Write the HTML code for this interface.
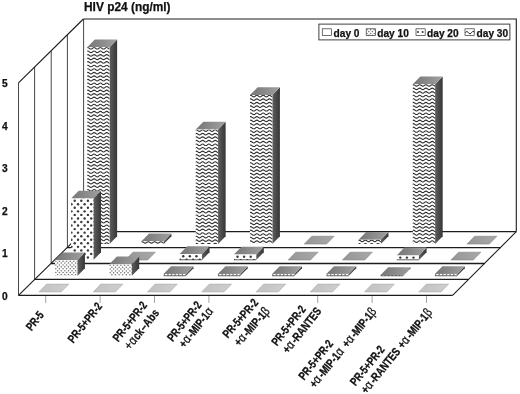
<!DOCTYPE html>
<html><head><meta charset="utf-8"><title>HIV p24</title>
<style>html,body{margin:0;padding:0;background:#fff}svg{display:block}
.t{font-family:"Liberation Sans",Arial,Helvetica,sans-serif;font-weight:bold;fill:#111}
.g{font-family:"Liberation Sans","DejaVu Sans",sans-serif;font-weight:normal;font-size:13px}</style></head>
<body>
<svg width="520" height="394" viewBox="0 0 520 394">
<defs>
<linearGradient id="side" x1="0" y1="0" x2="1" y2="0"><stop offset="0" stop-color="#5e5e5e"/><stop offset="1" stop-color="#363636"/></linearGradient>
<linearGradient id="top" x1="0" y1="0" x2="1" y2="0"><stop offset="0" stop-color="#767676"/><stop offset="1" stop-color="#a0a0a0"/></linearGradient>
<linearGradient id="flat0" x1="0" y1="0" x2="1" y2="0"><stop offset="0" stop-color="#c2c2c2"/><stop offset="1" stop-color="#cecece"/></linearGradient>
<linearGradient id="flat" x1="0" y1="0" x2="1" y2="0"><stop offset="0" stop-color="#969696"/><stop offset="1" stop-color="#a8a8a8"/></linearGradient>
</defs>
<rect width="520" height="394" fill="#fff"/>
<polyline points="83.40,19.00 516.30,19.00 516.30,231.60" stroke="#1c1c1c" stroke-width="1.1" fill="none" stroke-linejoin="miter"/>
<line x1="18.50" y1="82.90" x2="83.40" y2="19.00" stroke="#1c1c1c" stroke-width="1.1" fill="none" stroke-linejoin="miter"/>
<line x1="18.50" y1="82.90" x2="18.50" y2="295.40" stroke="#262626" stroke-width="0.85"/>
<line x1="34.60" y1="66.92" x2="34.60" y2="279.45" stroke="#262626" stroke-width="0.85"/>
<line x1="51.20" y1="50.95" x2="51.20" y2="263.50" stroke="#262626" stroke-width="0.85"/>
<line x1="67.40" y1="34.97" x2="67.40" y2="247.55" stroke="#262626" stroke-width="0.85"/>
<line x1="83.60" y1="19.00" x2="83.60" y2="231.60" stroke="#262626" stroke-width="0.85"/>
<line x1="18.50" y1="295.40" x2="83.40" y2="231.60" stroke="#1c1c1c" stroke-width="1.1" fill="none" stroke-linejoin="miter"/>
<line x1="452.58" y1="295.40" x2="516.30" y2="231.60" stroke="#1c1c1c" stroke-width="1.1" fill="none" stroke-linejoin="miter"/>
<line x1="18.50" y1="295.40" x2="452.58" y2="295.40" stroke="#1c1c1c" stroke-width="1.3"/>
<line x1="34.73" y1="279.45" x2="468.51" y2="279.45" stroke="#1c1c1c" stroke-width="1.3"/>
<line x1="50.95" y1="263.50" x2="484.44" y2="263.50" stroke="#1c1c1c" stroke-width="1.3"/>
<line x1="67.18" y1="247.55" x2="500.37" y2="247.55" stroke="#1c1c1c" stroke-width="1.3"/>
<line x1="83.40" y1="231.60" x2="516.30" y2="231.60" stroke="#1c1c1c" stroke-width="1.3"/>
<line x1="45.70" y1="296.00" x2="45.70" y2="302.90" stroke="#8c8c8c" stroke-width="0.8"/>
<line x1="100.10" y1="296.00" x2="100.10" y2="302.90" stroke="#8c8c8c" stroke-width="0.8"/>
<line x1="154.50" y1="296.00" x2="154.50" y2="302.90" stroke="#8c8c8c" stroke-width="0.8"/>
<line x1="208.90" y1="296.00" x2="208.90" y2="302.90" stroke="#8c8c8c" stroke-width="0.8"/>
<line x1="317.70" y1="296.00" x2="317.70" y2="302.90" stroke="#8c8c8c" stroke-width="0.8"/>
<line x1="372.10" y1="296.00" x2="372.10" y2="302.90" stroke="#8c8c8c" stroke-width="0.8"/>
<line x1="426.50" y1="296.00" x2="426.50" y2="302.90" stroke="#8c8c8c" stroke-width="0.8"/>
<polygon points="109.52,244.06 117.12,236.26 117.12,39.46 109.52,47.26" fill="url(#side)"/>
<polygon points="87.22,47.26 109.52,47.26 117.12,39.46 94.82,39.46" fill="url(#top)"/>
<clipPath id="c1"><rect x="87.22" y="47.26" width="22.30" height="196.80"/></clipPath>
<rect x="87.22" y="47.26" width="22.30" height="196.80" fill="#fff"/>
<g clip-path="url(#c1)">
<path d="M86.22,48.26 q1.57,-1.56 3.15,0 q1.57,1.56 3.15,0 q1.57,-1.56 3.15,0 q1.57,1.56 3.15,0 q1.57,-1.56 3.15,0 q1.57,1.56 3.15,0 q1.57,-1.56 3.15,0 q1.57,1.56 3.15,0" fill="none" stroke="#303030" stroke-width="1.08"/>
<path d="M86.22,51.81 q1.57,-1.56 3.15,0 q1.57,1.56 3.15,0 q1.57,-1.56 3.15,0 q1.57,1.56 3.15,0 q1.57,-1.56 3.15,0 q1.57,1.56 3.15,0 q1.57,-1.56 3.15,0 q1.57,1.56 3.15,0" fill="none" stroke="#303030" stroke-width="1.08"/>
<path d="M86.22,55.36 q1.57,-1.56 3.15,0 q1.57,1.56 3.15,0 q1.57,-1.56 3.15,0 q1.57,1.56 3.15,0 q1.57,-1.56 3.15,0 q1.57,1.56 3.15,0 q1.57,-1.56 3.15,0 q1.57,1.56 3.15,0" fill="none" stroke="#303030" stroke-width="1.08"/>
<path d="M86.22,58.91 q1.57,-1.56 3.15,0 q1.57,1.56 3.15,0 q1.57,-1.56 3.15,0 q1.57,1.56 3.15,0 q1.57,-1.56 3.15,0 q1.57,1.56 3.15,0 q1.57,-1.56 3.15,0 q1.57,1.56 3.15,0" fill="none" stroke="#303030" stroke-width="1.08"/>
<path d="M86.22,62.46 q1.57,-1.56 3.15,0 q1.57,1.56 3.15,0 q1.57,-1.56 3.15,0 q1.57,1.56 3.15,0 q1.57,-1.56 3.15,0 q1.57,1.56 3.15,0 q1.57,-1.56 3.15,0 q1.57,1.56 3.15,0" fill="none" stroke="#303030" stroke-width="1.08"/>
<path d="M86.22,66.01 q1.57,-1.56 3.15,0 q1.57,1.56 3.15,0 q1.57,-1.56 3.15,0 q1.57,1.56 3.15,0 q1.57,-1.56 3.15,0 q1.57,1.56 3.15,0 q1.57,-1.56 3.15,0 q1.57,1.56 3.15,0" fill="none" stroke="#303030" stroke-width="1.08"/>
<path d="M86.22,69.56 q1.57,-1.56 3.15,0 q1.57,1.56 3.15,0 q1.57,-1.56 3.15,0 q1.57,1.56 3.15,0 q1.57,-1.56 3.15,0 q1.57,1.56 3.15,0 q1.57,-1.56 3.15,0 q1.57,1.56 3.15,0" fill="none" stroke="#303030" stroke-width="1.08"/>
<path d="M86.22,73.11 q1.57,-1.56 3.15,0 q1.57,1.56 3.15,0 q1.57,-1.56 3.15,0 q1.57,1.56 3.15,0 q1.57,-1.56 3.15,0 q1.57,1.56 3.15,0 q1.57,-1.56 3.15,0 q1.57,1.56 3.15,0" fill="none" stroke="#303030" stroke-width="1.08"/>
<path d="M86.22,76.66 q1.57,-1.56 3.15,0 q1.57,1.56 3.15,0 q1.57,-1.56 3.15,0 q1.57,1.56 3.15,0 q1.57,-1.56 3.15,0 q1.57,1.56 3.15,0 q1.57,-1.56 3.15,0 q1.57,1.56 3.15,0" fill="none" stroke="#303030" stroke-width="1.08"/>
<path d="M86.22,80.21 q1.57,-1.56 3.15,0 q1.57,1.56 3.15,0 q1.57,-1.56 3.15,0 q1.57,1.56 3.15,0 q1.57,-1.56 3.15,0 q1.57,1.56 3.15,0 q1.57,-1.56 3.15,0 q1.57,1.56 3.15,0" fill="none" stroke="#303030" stroke-width="1.08"/>
<path d="M86.22,83.76 q1.57,-1.56 3.15,0 q1.57,1.56 3.15,0 q1.57,-1.56 3.15,0 q1.57,1.56 3.15,0 q1.57,-1.56 3.15,0 q1.57,1.56 3.15,0 q1.57,-1.56 3.15,0 q1.57,1.56 3.15,0" fill="none" stroke="#303030" stroke-width="1.08"/>
<path d="M86.22,87.31 q1.57,-1.56 3.15,0 q1.57,1.56 3.15,0 q1.57,-1.56 3.15,0 q1.57,1.56 3.15,0 q1.57,-1.56 3.15,0 q1.57,1.56 3.15,0 q1.57,-1.56 3.15,0 q1.57,1.56 3.15,0" fill="none" stroke="#303030" stroke-width="1.08"/>
<path d="M86.22,90.86 q1.57,-1.56 3.15,0 q1.57,1.56 3.15,0 q1.57,-1.56 3.15,0 q1.57,1.56 3.15,0 q1.57,-1.56 3.15,0 q1.57,1.56 3.15,0 q1.57,-1.56 3.15,0 q1.57,1.56 3.15,0" fill="none" stroke="#303030" stroke-width="1.08"/>
<path d="M86.22,94.41 q1.57,-1.56 3.15,0 q1.57,1.56 3.15,0 q1.57,-1.56 3.15,0 q1.57,1.56 3.15,0 q1.57,-1.56 3.15,0 q1.57,1.56 3.15,0 q1.57,-1.56 3.15,0 q1.57,1.56 3.15,0" fill="none" stroke="#303030" stroke-width="1.08"/>
<path d="M86.22,97.96 q1.57,-1.56 3.15,0 q1.57,1.56 3.15,0 q1.57,-1.56 3.15,0 q1.57,1.56 3.15,0 q1.57,-1.56 3.15,0 q1.57,1.56 3.15,0 q1.57,-1.56 3.15,0 q1.57,1.56 3.15,0" fill="none" stroke="#303030" stroke-width="1.08"/>
<path d="M86.22,101.51 q1.57,-1.56 3.15,0 q1.57,1.56 3.15,0 q1.57,-1.56 3.15,0 q1.57,1.56 3.15,0 q1.57,-1.56 3.15,0 q1.57,1.56 3.15,0 q1.57,-1.56 3.15,0 q1.57,1.56 3.15,0" fill="none" stroke="#303030" stroke-width="1.08"/>
<path d="M86.22,105.06 q1.57,-1.56 3.15,0 q1.57,1.56 3.15,0 q1.57,-1.56 3.15,0 q1.57,1.56 3.15,0 q1.57,-1.56 3.15,0 q1.57,1.56 3.15,0 q1.57,-1.56 3.15,0 q1.57,1.56 3.15,0" fill="none" stroke="#303030" stroke-width="1.08"/>
<path d="M86.22,108.61 q1.57,-1.56 3.15,0 q1.57,1.56 3.15,0 q1.57,-1.56 3.15,0 q1.57,1.56 3.15,0 q1.57,-1.56 3.15,0 q1.57,1.56 3.15,0 q1.57,-1.56 3.15,0 q1.57,1.56 3.15,0" fill="none" stroke="#303030" stroke-width="1.08"/>
<path d="M86.22,112.16 q1.57,-1.56 3.15,0 q1.57,1.56 3.15,0 q1.57,-1.56 3.15,0 q1.57,1.56 3.15,0 q1.57,-1.56 3.15,0 q1.57,1.56 3.15,0 q1.57,-1.56 3.15,0 q1.57,1.56 3.15,0" fill="none" stroke="#303030" stroke-width="1.08"/>
<path d="M86.22,115.71 q1.57,-1.56 3.15,0 q1.57,1.56 3.15,0 q1.57,-1.56 3.15,0 q1.57,1.56 3.15,0 q1.57,-1.56 3.15,0 q1.57,1.56 3.15,0 q1.57,-1.56 3.15,0 q1.57,1.56 3.15,0" fill="none" stroke="#303030" stroke-width="1.08"/>
<path d="M86.22,119.26 q1.57,-1.56 3.15,0 q1.57,1.56 3.15,0 q1.57,-1.56 3.15,0 q1.57,1.56 3.15,0 q1.57,-1.56 3.15,0 q1.57,1.56 3.15,0 q1.57,-1.56 3.15,0 q1.57,1.56 3.15,0" fill="none" stroke="#303030" stroke-width="1.08"/>
<path d="M86.22,122.81 q1.57,-1.56 3.15,0 q1.57,1.56 3.15,0 q1.57,-1.56 3.15,0 q1.57,1.56 3.15,0 q1.57,-1.56 3.15,0 q1.57,1.56 3.15,0 q1.57,-1.56 3.15,0 q1.57,1.56 3.15,0" fill="none" stroke="#303030" stroke-width="1.08"/>
<path d="M86.22,126.36 q1.57,-1.56 3.15,0 q1.57,1.56 3.15,0 q1.57,-1.56 3.15,0 q1.57,1.56 3.15,0 q1.57,-1.56 3.15,0 q1.57,1.56 3.15,0 q1.57,-1.56 3.15,0 q1.57,1.56 3.15,0" fill="none" stroke="#303030" stroke-width="1.08"/>
<path d="M86.22,129.91 q1.57,-1.56 3.15,0 q1.57,1.56 3.15,0 q1.57,-1.56 3.15,0 q1.57,1.56 3.15,0 q1.57,-1.56 3.15,0 q1.57,1.56 3.15,0 q1.57,-1.56 3.15,0 q1.57,1.56 3.15,0" fill="none" stroke="#303030" stroke-width="1.08"/>
<path d="M86.22,133.46 q1.57,-1.56 3.15,0 q1.57,1.56 3.15,0 q1.57,-1.56 3.15,0 q1.57,1.56 3.15,0 q1.57,-1.56 3.15,0 q1.57,1.56 3.15,0 q1.57,-1.56 3.15,0 q1.57,1.56 3.15,0" fill="none" stroke="#303030" stroke-width="1.08"/>
<path d="M86.22,137.01 q1.57,-1.56 3.15,0 q1.57,1.56 3.15,0 q1.57,-1.56 3.15,0 q1.57,1.56 3.15,0 q1.57,-1.56 3.15,0 q1.57,1.56 3.15,0 q1.57,-1.56 3.15,0 q1.57,1.56 3.15,0" fill="none" stroke="#303030" stroke-width="1.08"/>
<path d="M86.22,140.56 q1.57,-1.56 3.15,0 q1.57,1.56 3.15,0 q1.57,-1.56 3.15,0 q1.57,1.56 3.15,0 q1.57,-1.56 3.15,0 q1.57,1.56 3.15,0 q1.57,-1.56 3.15,0 q1.57,1.56 3.15,0" fill="none" stroke="#303030" stroke-width="1.08"/>
<path d="M86.22,144.11 q1.57,-1.56 3.15,0 q1.57,1.56 3.15,0 q1.57,-1.56 3.15,0 q1.57,1.56 3.15,0 q1.57,-1.56 3.15,0 q1.57,1.56 3.15,0 q1.57,-1.56 3.15,0 q1.57,1.56 3.15,0" fill="none" stroke="#303030" stroke-width="1.08"/>
<path d="M86.22,147.66 q1.57,-1.56 3.15,0 q1.57,1.56 3.15,0 q1.57,-1.56 3.15,0 q1.57,1.56 3.15,0 q1.57,-1.56 3.15,0 q1.57,1.56 3.15,0 q1.57,-1.56 3.15,0 q1.57,1.56 3.15,0" fill="none" stroke="#303030" stroke-width="1.08"/>
<path d="M86.22,151.21 q1.57,-1.56 3.15,0 q1.57,1.56 3.15,0 q1.57,-1.56 3.15,0 q1.57,1.56 3.15,0 q1.57,-1.56 3.15,0 q1.57,1.56 3.15,0 q1.57,-1.56 3.15,0 q1.57,1.56 3.15,0" fill="none" stroke="#303030" stroke-width="1.08"/>
<path d="M86.22,154.76 q1.57,-1.56 3.15,0 q1.57,1.56 3.15,0 q1.57,-1.56 3.15,0 q1.57,1.56 3.15,0 q1.57,-1.56 3.15,0 q1.57,1.56 3.15,0 q1.57,-1.56 3.15,0 q1.57,1.56 3.15,0" fill="none" stroke="#303030" stroke-width="1.08"/>
<path d="M86.22,158.31 q1.57,-1.56 3.15,0 q1.57,1.56 3.15,0 q1.57,-1.56 3.15,0 q1.57,1.56 3.15,0 q1.57,-1.56 3.15,0 q1.57,1.56 3.15,0 q1.57,-1.56 3.15,0 q1.57,1.56 3.15,0" fill="none" stroke="#303030" stroke-width="1.08"/>
<path d="M86.22,161.86 q1.57,-1.56 3.15,0 q1.57,1.56 3.15,0 q1.57,-1.56 3.15,0 q1.57,1.56 3.15,0 q1.57,-1.56 3.15,0 q1.57,1.56 3.15,0 q1.57,-1.56 3.15,0 q1.57,1.56 3.15,0" fill="none" stroke="#303030" stroke-width="1.08"/>
<path d="M86.22,165.41 q1.57,-1.56 3.15,0 q1.57,1.56 3.15,0 q1.57,-1.56 3.15,0 q1.57,1.56 3.15,0 q1.57,-1.56 3.15,0 q1.57,1.56 3.15,0 q1.57,-1.56 3.15,0 q1.57,1.56 3.15,0" fill="none" stroke="#303030" stroke-width="1.08"/>
<path d="M86.22,168.96 q1.57,-1.56 3.15,0 q1.57,1.56 3.15,0 q1.57,-1.56 3.15,0 q1.57,1.56 3.15,0 q1.57,-1.56 3.15,0 q1.57,1.56 3.15,0 q1.57,-1.56 3.15,0 q1.57,1.56 3.15,0" fill="none" stroke="#303030" stroke-width="1.08"/>
<path d="M86.22,172.51 q1.57,-1.56 3.15,0 q1.57,1.56 3.15,0 q1.57,-1.56 3.15,0 q1.57,1.56 3.15,0 q1.57,-1.56 3.15,0 q1.57,1.56 3.15,0 q1.57,-1.56 3.15,0 q1.57,1.56 3.15,0" fill="none" stroke="#303030" stroke-width="1.08"/>
<path d="M86.22,176.06 q1.57,-1.56 3.15,0 q1.57,1.56 3.15,0 q1.57,-1.56 3.15,0 q1.57,1.56 3.15,0 q1.57,-1.56 3.15,0 q1.57,1.56 3.15,0 q1.57,-1.56 3.15,0 q1.57,1.56 3.15,0" fill="none" stroke="#303030" stroke-width="1.08"/>
<path d="M86.22,179.61 q1.57,-1.56 3.15,0 q1.57,1.56 3.15,0 q1.57,-1.56 3.15,0 q1.57,1.56 3.15,0 q1.57,-1.56 3.15,0 q1.57,1.56 3.15,0 q1.57,-1.56 3.15,0 q1.57,1.56 3.15,0" fill="none" stroke="#303030" stroke-width="1.08"/>
<path d="M86.22,183.16 q1.57,-1.56 3.15,0 q1.57,1.56 3.15,0 q1.57,-1.56 3.15,0 q1.57,1.56 3.15,0 q1.57,-1.56 3.15,0 q1.57,1.56 3.15,0 q1.57,-1.56 3.15,0 q1.57,1.56 3.15,0" fill="none" stroke="#303030" stroke-width="1.08"/>
<path d="M86.22,186.71 q1.57,-1.56 3.15,0 q1.57,1.56 3.15,0 q1.57,-1.56 3.15,0 q1.57,1.56 3.15,0 q1.57,-1.56 3.15,0 q1.57,1.56 3.15,0 q1.57,-1.56 3.15,0 q1.57,1.56 3.15,0" fill="none" stroke="#303030" stroke-width="1.08"/>
<path d="M86.22,190.26 q1.57,-1.56 3.15,0 q1.57,1.56 3.15,0 q1.57,-1.56 3.15,0 q1.57,1.56 3.15,0 q1.57,-1.56 3.15,0 q1.57,1.56 3.15,0 q1.57,-1.56 3.15,0 q1.57,1.56 3.15,0" fill="none" stroke="#303030" stroke-width="1.08"/>
<path d="M86.22,193.81 q1.57,-1.56 3.15,0 q1.57,1.56 3.15,0 q1.57,-1.56 3.15,0 q1.57,1.56 3.15,0 q1.57,-1.56 3.15,0 q1.57,1.56 3.15,0 q1.57,-1.56 3.15,0 q1.57,1.56 3.15,0" fill="none" stroke="#303030" stroke-width="1.08"/>
<path d="M86.22,197.36 q1.57,-1.56 3.15,0 q1.57,1.56 3.15,0 q1.57,-1.56 3.15,0 q1.57,1.56 3.15,0 q1.57,-1.56 3.15,0 q1.57,1.56 3.15,0 q1.57,-1.56 3.15,0 q1.57,1.56 3.15,0" fill="none" stroke="#303030" stroke-width="1.08"/>
<path d="M86.22,200.91 q1.57,-1.56 3.15,0 q1.57,1.56 3.15,0 q1.57,-1.56 3.15,0 q1.57,1.56 3.15,0 q1.57,-1.56 3.15,0 q1.57,1.56 3.15,0 q1.57,-1.56 3.15,0 q1.57,1.56 3.15,0" fill="none" stroke="#303030" stroke-width="1.08"/>
<path d="M86.22,204.46 q1.57,-1.56 3.15,0 q1.57,1.56 3.15,0 q1.57,-1.56 3.15,0 q1.57,1.56 3.15,0 q1.57,-1.56 3.15,0 q1.57,1.56 3.15,0 q1.57,-1.56 3.15,0 q1.57,1.56 3.15,0" fill="none" stroke="#303030" stroke-width="1.08"/>
<path d="M86.22,208.01 q1.57,-1.56 3.15,0 q1.57,1.56 3.15,0 q1.57,-1.56 3.15,0 q1.57,1.56 3.15,0 q1.57,-1.56 3.15,0 q1.57,1.56 3.15,0 q1.57,-1.56 3.15,0 q1.57,1.56 3.15,0" fill="none" stroke="#303030" stroke-width="1.08"/>
<path d="M86.22,211.56 q1.57,-1.56 3.15,0 q1.57,1.56 3.15,0 q1.57,-1.56 3.15,0 q1.57,1.56 3.15,0 q1.57,-1.56 3.15,0 q1.57,1.56 3.15,0 q1.57,-1.56 3.15,0 q1.57,1.56 3.15,0" fill="none" stroke="#303030" stroke-width="1.08"/>
<path d="M86.22,215.11 q1.57,-1.56 3.15,0 q1.57,1.56 3.15,0 q1.57,-1.56 3.15,0 q1.57,1.56 3.15,0 q1.57,-1.56 3.15,0 q1.57,1.56 3.15,0 q1.57,-1.56 3.15,0 q1.57,1.56 3.15,0" fill="none" stroke="#303030" stroke-width="1.08"/>
<path d="M86.22,218.66 q1.57,-1.56 3.15,0 q1.57,1.56 3.15,0 q1.57,-1.56 3.15,0 q1.57,1.56 3.15,0 q1.57,-1.56 3.15,0 q1.57,1.56 3.15,0 q1.57,-1.56 3.15,0 q1.57,1.56 3.15,0" fill="none" stroke="#303030" stroke-width="1.08"/>
<path d="M86.22,222.21 q1.57,-1.56 3.15,0 q1.57,1.56 3.15,0 q1.57,-1.56 3.15,0 q1.57,1.56 3.15,0 q1.57,-1.56 3.15,0 q1.57,1.56 3.15,0 q1.57,-1.56 3.15,0 q1.57,1.56 3.15,0" fill="none" stroke="#303030" stroke-width="1.08"/>
<path d="M86.22,225.76 q1.57,-1.56 3.15,0 q1.57,1.56 3.15,0 q1.57,-1.56 3.15,0 q1.57,1.56 3.15,0 q1.57,-1.56 3.15,0 q1.57,1.56 3.15,0 q1.57,-1.56 3.15,0 q1.57,1.56 3.15,0" fill="none" stroke="#303030" stroke-width="1.08"/>
<path d="M86.22,229.31 q1.57,-1.56 3.15,0 q1.57,1.56 3.15,0 q1.57,-1.56 3.15,0 q1.57,1.56 3.15,0 q1.57,-1.56 3.15,0 q1.57,1.56 3.15,0 q1.57,-1.56 3.15,0 q1.57,1.56 3.15,0" fill="none" stroke="#303030" stroke-width="1.08"/>
<path d="M86.22,232.86 q1.57,-1.56 3.15,0 q1.57,1.56 3.15,0 q1.57,-1.56 3.15,0 q1.57,1.56 3.15,0 q1.57,-1.56 3.15,0 q1.57,1.56 3.15,0 q1.57,-1.56 3.15,0 q1.57,1.56 3.15,0" fill="none" stroke="#303030" stroke-width="1.08"/>
<path d="M86.22,236.41 q1.57,-1.56 3.15,0 q1.57,1.56 3.15,0 q1.57,-1.56 3.15,0 q1.57,1.56 3.15,0 q1.57,-1.56 3.15,0 q1.57,1.56 3.15,0 q1.57,-1.56 3.15,0 q1.57,1.56 3.15,0" fill="none" stroke="#303030" stroke-width="1.08"/>
<path d="M86.22,239.96 q1.57,-1.56 3.15,0 q1.57,1.56 3.15,0 q1.57,-1.56 3.15,0 q1.57,1.56 3.15,0 q1.57,-1.56 3.15,0 q1.57,1.56 3.15,0 q1.57,-1.56 3.15,0 q1.57,1.56 3.15,0" fill="none" stroke="#303030" stroke-width="1.08"/>
<path d="M86.22,243.51 q1.57,-1.56 3.15,0 q1.57,1.56 3.15,0 q1.57,-1.56 3.15,0 q1.57,1.56 3.15,0 q1.57,-1.56 3.15,0 q1.57,1.56 3.15,0 q1.57,-1.56 3.15,0 q1.57,1.56 3.15,0" fill="none" stroke="#303030" stroke-width="1.08"/>
</g>
<polygon points="163.78,244.06 171.38,236.26 171.38,233.56 163.78,241.36" fill="url(#side)"/>
<polygon points="141.48,241.36 163.78,241.36 171.38,233.56 149.08,233.56" fill="url(#top)"/>
<clipPath id="c2"><rect x="141.48" y="241.36" width="22.30" height="2.70"/></clipPath>
<rect x="141.48" y="241.36" width="22.30" height="2.70" fill="#fff"/>
<g clip-path="url(#c2)">
<path d="M140.48,242.36 q1.57,-1.56 3.15,0 q1.57,1.56 3.15,0 q1.57,-1.56 3.15,0 q1.57,1.56 3.15,0 q1.57,-1.56 3.15,0 q1.57,1.56 3.15,0 q1.57,-1.56 3.15,0 q1.57,1.56 3.15,0" fill="none" stroke="#303030" stroke-width="1.08"/>
<path d="M140.48,245.91 q1.57,-1.56 3.15,0 q1.57,1.56 3.15,0 q1.57,-1.56 3.15,0 q1.57,1.56 3.15,0 q1.57,-1.56 3.15,0 q1.57,1.56 3.15,0 q1.57,-1.56 3.15,0 q1.57,1.56 3.15,0" fill="none" stroke="#303030" stroke-width="1.08"/>
</g>
<polygon points="218.05,244.06 225.65,236.26 225.65,121.76 218.05,129.56" fill="url(#side)"/>
<polygon points="195.75,129.56 218.05,129.56 225.65,121.76 203.34,121.76" fill="url(#top)"/>
<clipPath id="c3"><rect x="195.75" y="129.56" width="22.30" height="114.50"/></clipPath>
<rect x="195.75" y="129.56" width="22.30" height="114.50" fill="#fff"/>
<g clip-path="url(#c3)">
<path d="M194.75,130.56 q1.57,-1.56 3.15,0 q1.57,1.56 3.15,0 q1.57,-1.56 3.15,0 q1.57,1.56 3.15,0 q1.57,-1.56 3.15,0 q1.57,1.56 3.15,0 q1.57,-1.56 3.15,0 q1.57,1.56 3.15,0" fill="none" stroke="#303030" stroke-width="1.08"/>
<path d="M194.75,134.11 q1.57,-1.56 3.15,0 q1.57,1.56 3.15,0 q1.57,-1.56 3.15,0 q1.57,1.56 3.15,0 q1.57,-1.56 3.15,0 q1.57,1.56 3.15,0 q1.57,-1.56 3.15,0 q1.57,1.56 3.15,0" fill="none" stroke="#303030" stroke-width="1.08"/>
<path d="M194.75,137.66 q1.57,-1.56 3.15,0 q1.57,1.56 3.15,0 q1.57,-1.56 3.15,0 q1.57,1.56 3.15,0 q1.57,-1.56 3.15,0 q1.57,1.56 3.15,0 q1.57,-1.56 3.15,0 q1.57,1.56 3.15,0" fill="none" stroke="#303030" stroke-width="1.08"/>
<path d="M194.75,141.21 q1.57,-1.56 3.15,0 q1.57,1.56 3.15,0 q1.57,-1.56 3.15,0 q1.57,1.56 3.15,0 q1.57,-1.56 3.15,0 q1.57,1.56 3.15,0 q1.57,-1.56 3.15,0 q1.57,1.56 3.15,0" fill="none" stroke="#303030" stroke-width="1.08"/>
<path d="M194.75,144.76 q1.57,-1.56 3.15,0 q1.57,1.56 3.15,0 q1.57,-1.56 3.15,0 q1.57,1.56 3.15,0 q1.57,-1.56 3.15,0 q1.57,1.56 3.15,0 q1.57,-1.56 3.15,0 q1.57,1.56 3.15,0" fill="none" stroke="#303030" stroke-width="1.08"/>
<path d="M194.75,148.31 q1.57,-1.56 3.15,0 q1.57,1.56 3.15,0 q1.57,-1.56 3.15,0 q1.57,1.56 3.15,0 q1.57,-1.56 3.15,0 q1.57,1.56 3.15,0 q1.57,-1.56 3.15,0 q1.57,1.56 3.15,0" fill="none" stroke="#303030" stroke-width="1.08"/>
<path d="M194.75,151.86 q1.57,-1.56 3.15,0 q1.57,1.56 3.15,0 q1.57,-1.56 3.15,0 q1.57,1.56 3.15,0 q1.57,-1.56 3.15,0 q1.57,1.56 3.15,0 q1.57,-1.56 3.15,0 q1.57,1.56 3.15,0" fill="none" stroke="#303030" stroke-width="1.08"/>
<path d="M194.75,155.41 q1.57,-1.56 3.15,0 q1.57,1.56 3.15,0 q1.57,-1.56 3.15,0 q1.57,1.56 3.15,0 q1.57,-1.56 3.15,0 q1.57,1.56 3.15,0 q1.57,-1.56 3.15,0 q1.57,1.56 3.15,0" fill="none" stroke="#303030" stroke-width="1.08"/>
<path d="M194.75,158.96 q1.57,-1.56 3.15,0 q1.57,1.56 3.15,0 q1.57,-1.56 3.15,0 q1.57,1.56 3.15,0 q1.57,-1.56 3.15,0 q1.57,1.56 3.15,0 q1.57,-1.56 3.15,0 q1.57,1.56 3.15,0" fill="none" stroke="#303030" stroke-width="1.08"/>
<path d="M194.75,162.51 q1.57,-1.56 3.15,0 q1.57,1.56 3.15,0 q1.57,-1.56 3.15,0 q1.57,1.56 3.15,0 q1.57,-1.56 3.15,0 q1.57,1.56 3.15,0 q1.57,-1.56 3.15,0 q1.57,1.56 3.15,0" fill="none" stroke="#303030" stroke-width="1.08"/>
<path d="M194.75,166.06 q1.57,-1.56 3.15,0 q1.57,1.56 3.15,0 q1.57,-1.56 3.15,0 q1.57,1.56 3.15,0 q1.57,-1.56 3.15,0 q1.57,1.56 3.15,0 q1.57,-1.56 3.15,0 q1.57,1.56 3.15,0" fill="none" stroke="#303030" stroke-width="1.08"/>
<path d="M194.75,169.61 q1.57,-1.56 3.15,0 q1.57,1.56 3.15,0 q1.57,-1.56 3.15,0 q1.57,1.56 3.15,0 q1.57,-1.56 3.15,0 q1.57,1.56 3.15,0 q1.57,-1.56 3.15,0 q1.57,1.56 3.15,0" fill="none" stroke="#303030" stroke-width="1.08"/>
<path d="M194.75,173.16 q1.57,-1.56 3.15,0 q1.57,1.56 3.15,0 q1.57,-1.56 3.15,0 q1.57,1.56 3.15,0 q1.57,-1.56 3.15,0 q1.57,1.56 3.15,0 q1.57,-1.56 3.15,0 q1.57,1.56 3.15,0" fill="none" stroke="#303030" stroke-width="1.08"/>
<path d="M194.75,176.71 q1.57,-1.56 3.15,0 q1.57,1.56 3.15,0 q1.57,-1.56 3.15,0 q1.57,1.56 3.15,0 q1.57,-1.56 3.15,0 q1.57,1.56 3.15,0 q1.57,-1.56 3.15,0 q1.57,1.56 3.15,0" fill="none" stroke="#303030" stroke-width="1.08"/>
<path d="M194.75,180.26 q1.57,-1.56 3.15,0 q1.57,1.56 3.15,0 q1.57,-1.56 3.15,0 q1.57,1.56 3.15,0 q1.57,-1.56 3.15,0 q1.57,1.56 3.15,0 q1.57,-1.56 3.15,0 q1.57,1.56 3.15,0" fill="none" stroke="#303030" stroke-width="1.08"/>
<path d="M194.75,183.81 q1.57,-1.56 3.15,0 q1.57,1.56 3.15,0 q1.57,-1.56 3.15,0 q1.57,1.56 3.15,0 q1.57,-1.56 3.15,0 q1.57,1.56 3.15,0 q1.57,-1.56 3.15,0 q1.57,1.56 3.15,0" fill="none" stroke="#303030" stroke-width="1.08"/>
<path d="M194.75,187.36 q1.57,-1.56 3.15,0 q1.57,1.56 3.15,0 q1.57,-1.56 3.15,0 q1.57,1.56 3.15,0 q1.57,-1.56 3.15,0 q1.57,1.56 3.15,0 q1.57,-1.56 3.15,0 q1.57,1.56 3.15,0" fill="none" stroke="#303030" stroke-width="1.08"/>
<path d="M194.75,190.91 q1.57,-1.56 3.15,0 q1.57,1.56 3.15,0 q1.57,-1.56 3.15,0 q1.57,1.56 3.15,0 q1.57,-1.56 3.15,0 q1.57,1.56 3.15,0 q1.57,-1.56 3.15,0 q1.57,1.56 3.15,0" fill="none" stroke="#303030" stroke-width="1.08"/>
<path d="M194.75,194.46 q1.57,-1.56 3.15,0 q1.57,1.56 3.15,0 q1.57,-1.56 3.15,0 q1.57,1.56 3.15,0 q1.57,-1.56 3.15,0 q1.57,1.56 3.15,0 q1.57,-1.56 3.15,0 q1.57,1.56 3.15,0" fill="none" stroke="#303030" stroke-width="1.08"/>
<path d="M194.75,198.01 q1.57,-1.56 3.15,0 q1.57,1.56 3.15,0 q1.57,-1.56 3.15,0 q1.57,1.56 3.15,0 q1.57,-1.56 3.15,0 q1.57,1.56 3.15,0 q1.57,-1.56 3.15,0 q1.57,1.56 3.15,0" fill="none" stroke="#303030" stroke-width="1.08"/>
<path d="M194.75,201.56 q1.57,-1.56 3.15,0 q1.57,1.56 3.15,0 q1.57,-1.56 3.15,0 q1.57,1.56 3.15,0 q1.57,-1.56 3.15,0 q1.57,1.56 3.15,0 q1.57,-1.56 3.15,0 q1.57,1.56 3.15,0" fill="none" stroke="#303030" stroke-width="1.08"/>
<path d="M194.75,205.11 q1.57,-1.56 3.15,0 q1.57,1.56 3.15,0 q1.57,-1.56 3.15,0 q1.57,1.56 3.15,0 q1.57,-1.56 3.15,0 q1.57,1.56 3.15,0 q1.57,-1.56 3.15,0 q1.57,1.56 3.15,0" fill="none" stroke="#303030" stroke-width="1.08"/>
<path d="M194.75,208.66 q1.57,-1.56 3.15,0 q1.57,1.56 3.15,0 q1.57,-1.56 3.15,0 q1.57,1.56 3.15,0 q1.57,-1.56 3.15,0 q1.57,1.56 3.15,0 q1.57,-1.56 3.15,0 q1.57,1.56 3.15,0" fill="none" stroke="#303030" stroke-width="1.08"/>
<path d="M194.75,212.21 q1.57,-1.56 3.15,0 q1.57,1.56 3.15,0 q1.57,-1.56 3.15,0 q1.57,1.56 3.15,0 q1.57,-1.56 3.15,0 q1.57,1.56 3.15,0 q1.57,-1.56 3.15,0 q1.57,1.56 3.15,0" fill="none" stroke="#303030" stroke-width="1.08"/>
<path d="M194.75,215.76 q1.57,-1.56 3.15,0 q1.57,1.56 3.15,0 q1.57,-1.56 3.15,0 q1.57,1.56 3.15,0 q1.57,-1.56 3.15,0 q1.57,1.56 3.15,0 q1.57,-1.56 3.15,0 q1.57,1.56 3.15,0" fill="none" stroke="#303030" stroke-width="1.08"/>
<path d="M194.75,219.31 q1.57,-1.56 3.15,0 q1.57,1.56 3.15,0 q1.57,-1.56 3.15,0 q1.57,1.56 3.15,0 q1.57,-1.56 3.15,0 q1.57,1.56 3.15,0 q1.57,-1.56 3.15,0 q1.57,1.56 3.15,0" fill="none" stroke="#303030" stroke-width="1.08"/>
<path d="M194.75,222.86 q1.57,-1.56 3.15,0 q1.57,1.56 3.15,0 q1.57,-1.56 3.15,0 q1.57,1.56 3.15,0 q1.57,-1.56 3.15,0 q1.57,1.56 3.15,0 q1.57,-1.56 3.15,0 q1.57,1.56 3.15,0" fill="none" stroke="#303030" stroke-width="1.08"/>
<path d="M194.75,226.41 q1.57,-1.56 3.15,0 q1.57,1.56 3.15,0 q1.57,-1.56 3.15,0 q1.57,1.56 3.15,0 q1.57,-1.56 3.15,0 q1.57,1.56 3.15,0 q1.57,-1.56 3.15,0 q1.57,1.56 3.15,0" fill="none" stroke="#303030" stroke-width="1.08"/>
<path d="M194.75,229.96 q1.57,-1.56 3.15,0 q1.57,1.56 3.15,0 q1.57,-1.56 3.15,0 q1.57,1.56 3.15,0 q1.57,-1.56 3.15,0 q1.57,1.56 3.15,0 q1.57,-1.56 3.15,0 q1.57,1.56 3.15,0" fill="none" stroke="#303030" stroke-width="1.08"/>
<path d="M194.75,233.51 q1.57,-1.56 3.15,0 q1.57,1.56 3.15,0 q1.57,-1.56 3.15,0 q1.57,1.56 3.15,0 q1.57,-1.56 3.15,0 q1.57,1.56 3.15,0 q1.57,-1.56 3.15,0 q1.57,1.56 3.15,0" fill="none" stroke="#303030" stroke-width="1.08"/>
<path d="M194.75,237.06 q1.57,-1.56 3.15,0 q1.57,1.56 3.15,0 q1.57,-1.56 3.15,0 q1.57,1.56 3.15,0 q1.57,-1.56 3.15,0 q1.57,1.56 3.15,0 q1.57,-1.56 3.15,0 q1.57,1.56 3.15,0" fill="none" stroke="#303030" stroke-width="1.08"/>
<path d="M194.75,240.61 q1.57,-1.56 3.15,0 q1.57,1.56 3.15,0 q1.57,-1.56 3.15,0 q1.57,1.56 3.15,0 q1.57,-1.56 3.15,0 q1.57,1.56 3.15,0 q1.57,-1.56 3.15,0 q1.57,1.56 3.15,0" fill="none" stroke="#303030" stroke-width="1.08"/>
<path d="M194.75,244.16 q1.57,-1.56 3.15,0 q1.57,1.56 3.15,0 q1.57,-1.56 3.15,0 q1.57,1.56 3.15,0 q1.57,-1.56 3.15,0 q1.57,1.56 3.15,0 q1.57,-1.56 3.15,0 q1.57,1.56 3.15,0" fill="none" stroke="#303030" stroke-width="1.08"/>
</g>
<polygon points="272.31,244.06 279.91,236.26 279.91,87.26 272.31,95.06" fill="url(#side)"/>
<polygon points="250.01,95.06 272.31,95.06 279.91,87.26 257.61,87.26" fill="url(#top)"/>
<clipPath id="c4"><rect x="250.01" y="95.06" width="22.30" height="149.00"/></clipPath>
<rect x="250.01" y="95.06" width="22.30" height="149.00" fill="#fff"/>
<g clip-path="url(#c4)">
<path d="M249.01,96.06 q1.57,-1.56 3.15,0 q1.57,1.56 3.15,0 q1.57,-1.56 3.15,0 q1.57,1.56 3.15,0 q1.57,-1.56 3.15,0 q1.57,1.56 3.15,0 q1.57,-1.56 3.15,0 q1.57,1.56 3.15,0" fill="none" stroke="#303030" stroke-width="1.08"/>
<path d="M249.01,99.61 q1.57,-1.56 3.15,0 q1.57,1.56 3.15,0 q1.57,-1.56 3.15,0 q1.57,1.56 3.15,0 q1.57,-1.56 3.15,0 q1.57,1.56 3.15,0 q1.57,-1.56 3.15,0 q1.57,1.56 3.15,0" fill="none" stroke="#303030" stroke-width="1.08"/>
<path d="M249.01,103.16 q1.57,-1.56 3.15,0 q1.57,1.56 3.15,0 q1.57,-1.56 3.15,0 q1.57,1.56 3.15,0 q1.57,-1.56 3.15,0 q1.57,1.56 3.15,0 q1.57,-1.56 3.15,0 q1.57,1.56 3.15,0" fill="none" stroke="#303030" stroke-width="1.08"/>
<path d="M249.01,106.71 q1.57,-1.56 3.15,0 q1.57,1.56 3.15,0 q1.57,-1.56 3.15,0 q1.57,1.56 3.15,0 q1.57,-1.56 3.15,0 q1.57,1.56 3.15,0 q1.57,-1.56 3.15,0 q1.57,1.56 3.15,0" fill="none" stroke="#303030" stroke-width="1.08"/>
<path d="M249.01,110.26 q1.57,-1.56 3.15,0 q1.57,1.56 3.15,0 q1.57,-1.56 3.15,0 q1.57,1.56 3.15,0 q1.57,-1.56 3.15,0 q1.57,1.56 3.15,0 q1.57,-1.56 3.15,0 q1.57,1.56 3.15,0" fill="none" stroke="#303030" stroke-width="1.08"/>
<path d="M249.01,113.81 q1.57,-1.56 3.15,0 q1.57,1.56 3.15,0 q1.57,-1.56 3.15,0 q1.57,1.56 3.15,0 q1.57,-1.56 3.15,0 q1.57,1.56 3.15,0 q1.57,-1.56 3.15,0 q1.57,1.56 3.15,0" fill="none" stroke="#303030" stroke-width="1.08"/>
<path d="M249.01,117.36 q1.57,-1.56 3.15,0 q1.57,1.56 3.15,0 q1.57,-1.56 3.15,0 q1.57,1.56 3.15,0 q1.57,-1.56 3.15,0 q1.57,1.56 3.15,0 q1.57,-1.56 3.15,0 q1.57,1.56 3.15,0" fill="none" stroke="#303030" stroke-width="1.08"/>
<path d="M249.01,120.91 q1.57,-1.56 3.15,0 q1.57,1.56 3.15,0 q1.57,-1.56 3.15,0 q1.57,1.56 3.15,0 q1.57,-1.56 3.15,0 q1.57,1.56 3.15,0 q1.57,-1.56 3.15,0 q1.57,1.56 3.15,0" fill="none" stroke="#303030" stroke-width="1.08"/>
<path d="M249.01,124.46 q1.57,-1.56 3.15,0 q1.57,1.56 3.15,0 q1.57,-1.56 3.15,0 q1.57,1.56 3.15,0 q1.57,-1.56 3.15,0 q1.57,1.56 3.15,0 q1.57,-1.56 3.15,0 q1.57,1.56 3.15,0" fill="none" stroke="#303030" stroke-width="1.08"/>
<path d="M249.01,128.01 q1.57,-1.56 3.15,0 q1.57,1.56 3.15,0 q1.57,-1.56 3.15,0 q1.57,1.56 3.15,0 q1.57,-1.56 3.15,0 q1.57,1.56 3.15,0 q1.57,-1.56 3.15,0 q1.57,1.56 3.15,0" fill="none" stroke="#303030" stroke-width="1.08"/>
<path d="M249.01,131.56 q1.57,-1.56 3.15,0 q1.57,1.56 3.15,0 q1.57,-1.56 3.15,0 q1.57,1.56 3.15,0 q1.57,-1.56 3.15,0 q1.57,1.56 3.15,0 q1.57,-1.56 3.15,0 q1.57,1.56 3.15,0" fill="none" stroke="#303030" stroke-width="1.08"/>
<path d="M249.01,135.11 q1.57,-1.56 3.15,0 q1.57,1.56 3.15,0 q1.57,-1.56 3.15,0 q1.57,1.56 3.15,0 q1.57,-1.56 3.15,0 q1.57,1.56 3.15,0 q1.57,-1.56 3.15,0 q1.57,1.56 3.15,0" fill="none" stroke="#303030" stroke-width="1.08"/>
<path d="M249.01,138.66 q1.57,-1.56 3.15,0 q1.57,1.56 3.15,0 q1.57,-1.56 3.15,0 q1.57,1.56 3.15,0 q1.57,-1.56 3.15,0 q1.57,1.56 3.15,0 q1.57,-1.56 3.15,0 q1.57,1.56 3.15,0" fill="none" stroke="#303030" stroke-width="1.08"/>
<path d="M249.01,142.21 q1.57,-1.56 3.15,0 q1.57,1.56 3.15,0 q1.57,-1.56 3.15,0 q1.57,1.56 3.15,0 q1.57,-1.56 3.15,0 q1.57,1.56 3.15,0 q1.57,-1.56 3.15,0 q1.57,1.56 3.15,0" fill="none" stroke="#303030" stroke-width="1.08"/>
<path d="M249.01,145.76 q1.57,-1.56 3.15,0 q1.57,1.56 3.15,0 q1.57,-1.56 3.15,0 q1.57,1.56 3.15,0 q1.57,-1.56 3.15,0 q1.57,1.56 3.15,0 q1.57,-1.56 3.15,0 q1.57,1.56 3.15,0" fill="none" stroke="#303030" stroke-width="1.08"/>
<path d="M249.01,149.31 q1.57,-1.56 3.15,0 q1.57,1.56 3.15,0 q1.57,-1.56 3.15,0 q1.57,1.56 3.15,0 q1.57,-1.56 3.15,0 q1.57,1.56 3.15,0 q1.57,-1.56 3.15,0 q1.57,1.56 3.15,0" fill="none" stroke="#303030" stroke-width="1.08"/>
<path d="M249.01,152.86 q1.57,-1.56 3.15,0 q1.57,1.56 3.15,0 q1.57,-1.56 3.15,0 q1.57,1.56 3.15,0 q1.57,-1.56 3.15,0 q1.57,1.56 3.15,0 q1.57,-1.56 3.15,0 q1.57,1.56 3.15,0" fill="none" stroke="#303030" stroke-width="1.08"/>
<path d="M249.01,156.41 q1.57,-1.56 3.15,0 q1.57,1.56 3.15,0 q1.57,-1.56 3.15,0 q1.57,1.56 3.15,0 q1.57,-1.56 3.15,0 q1.57,1.56 3.15,0 q1.57,-1.56 3.15,0 q1.57,1.56 3.15,0" fill="none" stroke="#303030" stroke-width="1.08"/>
<path d="M249.01,159.96 q1.57,-1.56 3.15,0 q1.57,1.56 3.15,0 q1.57,-1.56 3.15,0 q1.57,1.56 3.15,0 q1.57,-1.56 3.15,0 q1.57,1.56 3.15,0 q1.57,-1.56 3.15,0 q1.57,1.56 3.15,0" fill="none" stroke="#303030" stroke-width="1.08"/>
<path d="M249.01,163.51 q1.57,-1.56 3.15,0 q1.57,1.56 3.15,0 q1.57,-1.56 3.15,0 q1.57,1.56 3.15,0 q1.57,-1.56 3.15,0 q1.57,1.56 3.15,0 q1.57,-1.56 3.15,0 q1.57,1.56 3.15,0" fill="none" stroke="#303030" stroke-width="1.08"/>
<path d="M249.01,167.06 q1.57,-1.56 3.15,0 q1.57,1.56 3.15,0 q1.57,-1.56 3.15,0 q1.57,1.56 3.15,0 q1.57,-1.56 3.15,0 q1.57,1.56 3.15,0 q1.57,-1.56 3.15,0 q1.57,1.56 3.15,0" fill="none" stroke="#303030" stroke-width="1.08"/>
<path d="M249.01,170.61 q1.57,-1.56 3.15,0 q1.57,1.56 3.15,0 q1.57,-1.56 3.15,0 q1.57,1.56 3.15,0 q1.57,-1.56 3.15,0 q1.57,1.56 3.15,0 q1.57,-1.56 3.15,0 q1.57,1.56 3.15,0" fill="none" stroke="#303030" stroke-width="1.08"/>
<path d="M249.01,174.16 q1.57,-1.56 3.15,0 q1.57,1.56 3.15,0 q1.57,-1.56 3.15,0 q1.57,1.56 3.15,0 q1.57,-1.56 3.15,0 q1.57,1.56 3.15,0 q1.57,-1.56 3.15,0 q1.57,1.56 3.15,0" fill="none" stroke="#303030" stroke-width="1.08"/>
<path d="M249.01,177.71 q1.57,-1.56 3.15,0 q1.57,1.56 3.15,0 q1.57,-1.56 3.15,0 q1.57,1.56 3.15,0 q1.57,-1.56 3.15,0 q1.57,1.56 3.15,0 q1.57,-1.56 3.15,0 q1.57,1.56 3.15,0" fill="none" stroke="#303030" stroke-width="1.08"/>
<path d="M249.01,181.26 q1.57,-1.56 3.15,0 q1.57,1.56 3.15,0 q1.57,-1.56 3.15,0 q1.57,1.56 3.15,0 q1.57,-1.56 3.15,0 q1.57,1.56 3.15,0 q1.57,-1.56 3.15,0 q1.57,1.56 3.15,0" fill="none" stroke="#303030" stroke-width="1.08"/>
<path d="M249.01,184.81 q1.57,-1.56 3.15,0 q1.57,1.56 3.15,0 q1.57,-1.56 3.15,0 q1.57,1.56 3.15,0 q1.57,-1.56 3.15,0 q1.57,1.56 3.15,0 q1.57,-1.56 3.15,0 q1.57,1.56 3.15,0" fill="none" stroke="#303030" stroke-width="1.08"/>
<path d="M249.01,188.36 q1.57,-1.56 3.15,0 q1.57,1.56 3.15,0 q1.57,-1.56 3.15,0 q1.57,1.56 3.15,0 q1.57,-1.56 3.15,0 q1.57,1.56 3.15,0 q1.57,-1.56 3.15,0 q1.57,1.56 3.15,0" fill="none" stroke="#303030" stroke-width="1.08"/>
<path d="M249.01,191.91 q1.57,-1.56 3.15,0 q1.57,1.56 3.15,0 q1.57,-1.56 3.15,0 q1.57,1.56 3.15,0 q1.57,-1.56 3.15,0 q1.57,1.56 3.15,0 q1.57,-1.56 3.15,0 q1.57,1.56 3.15,0" fill="none" stroke="#303030" stroke-width="1.08"/>
<path d="M249.01,195.46 q1.57,-1.56 3.15,0 q1.57,1.56 3.15,0 q1.57,-1.56 3.15,0 q1.57,1.56 3.15,0 q1.57,-1.56 3.15,0 q1.57,1.56 3.15,0 q1.57,-1.56 3.15,0 q1.57,1.56 3.15,0" fill="none" stroke="#303030" stroke-width="1.08"/>
<path d="M249.01,199.01 q1.57,-1.56 3.15,0 q1.57,1.56 3.15,0 q1.57,-1.56 3.15,0 q1.57,1.56 3.15,0 q1.57,-1.56 3.15,0 q1.57,1.56 3.15,0 q1.57,-1.56 3.15,0 q1.57,1.56 3.15,0" fill="none" stroke="#303030" stroke-width="1.08"/>
<path d="M249.01,202.56 q1.57,-1.56 3.15,0 q1.57,1.56 3.15,0 q1.57,-1.56 3.15,0 q1.57,1.56 3.15,0 q1.57,-1.56 3.15,0 q1.57,1.56 3.15,0 q1.57,-1.56 3.15,0 q1.57,1.56 3.15,0" fill="none" stroke="#303030" stroke-width="1.08"/>
<path d="M249.01,206.11 q1.57,-1.56 3.15,0 q1.57,1.56 3.15,0 q1.57,-1.56 3.15,0 q1.57,1.56 3.15,0 q1.57,-1.56 3.15,0 q1.57,1.56 3.15,0 q1.57,-1.56 3.15,0 q1.57,1.56 3.15,0" fill="none" stroke="#303030" stroke-width="1.08"/>
<path d="M249.01,209.66 q1.57,-1.56 3.15,0 q1.57,1.56 3.15,0 q1.57,-1.56 3.15,0 q1.57,1.56 3.15,0 q1.57,-1.56 3.15,0 q1.57,1.56 3.15,0 q1.57,-1.56 3.15,0 q1.57,1.56 3.15,0" fill="none" stroke="#303030" stroke-width="1.08"/>
<path d="M249.01,213.21 q1.57,-1.56 3.15,0 q1.57,1.56 3.15,0 q1.57,-1.56 3.15,0 q1.57,1.56 3.15,0 q1.57,-1.56 3.15,0 q1.57,1.56 3.15,0 q1.57,-1.56 3.15,0 q1.57,1.56 3.15,0" fill="none" stroke="#303030" stroke-width="1.08"/>
<path d="M249.01,216.76 q1.57,-1.56 3.15,0 q1.57,1.56 3.15,0 q1.57,-1.56 3.15,0 q1.57,1.56 3.15,0 q1.57,-1.56 3.15,0 q1.57,1.56 3.15,0 q1.57,-1.56 3.15,0 q1.57,1.56 3.15,0" fill="none" stroke="#303030" stroke-width="1.08"/>
<path d="M249.01,220.31 q1.57,-1.56 3.15,0 q1.57,1.56 3.15,0 q1.57,-1.56 3.15,0 q1.57,1.56 3.15,0 q1.57,-1.56 3.15,0 q1.57,1.56 3.15,0 q1.57,-1.56 3.15,0 q1.57,1.56 3.15,0" fill="none" stroke="#303030" stroke-width="1.08"/>
<path d="M249.01,223.86 q1.57,-1.56 3.15,0 q1.57,1.56 3.15,0 q1.57,-1.56 3.15,0 q1.57,1.56 3.15,0 q1.57,-1.56 3.15,0 q1.57,1.56 3.15,0 q1.57,-1.56 3.15,0 q1.57,1.56 3.15,0" fill="none" stroke="#303030" stroke-width="1.08"/>
<path d="M249.01,227.41 q1.57,-1.56 3.15,0 q1.57,1.56 3.15,0 q1.57,-1.56 3.15,0 q1.57,1.56 3.15,0 q1.57,-1.56 3.15,0 q1.57,1.56 3.15,0 q1.57,-1.56 3.15,0 q1.57,1.56 3.15,0" fill="none" stroke="#303030" stroke-width="1.08"/>
<path d="M249.01,230.96 q1.57,-1.56 3.15,0 q1.57,1.56 3.15,0 q1.57,-1.56 3.15,0 q1.57,1.56 3.15,0 q1.57,-1.56 3.15,0 q1.57,1.56 3.15,0 q1.57,-1.56 3.15,0 q1.57,1.56 3.15,0" fill="none" stroke="#303030" stroke-width="1.08"/>
<path d="M249.01,234.51 q1.57,-1.56 3.15,0 q1.57,1.56 3.15,0 q1.57,-1.56 3.15,0 q1.57,1.56 3.15,0 q1.57,-1.56 3.15,0 q1.57,1.56 3.15,0 q1.57,-1.56 3.15,0 q1.57,1.56 3.15,0" fill="none" stroke="#303030" stroke-width="1.08"/>
<path d="M249.01,238.06 q1.57,-1.56 3.15,0 q1.57,1.56 3.15,0 q1.57,-1.56 3.15,0 q1.57,1.56 3.15,0 q1.57,-1.56 3.15,0 q1.57,1.56 3.15,0 q1.57,-1.56 3.15,0 q1.57,1.56 3.15,0" fill="none" stroke="#303030" stroke-width="1.08"/>
<path d="M249.01,241.61 q1.57,-1.56 3.15,0 q1.57,1.56 3.15,0 q1.57,-1.56 3.15,0 q1.57,1.56 3.15,0 q1.57,-1.56 3.15,0 q1.57,1.56 3.15,0 q1.57,-1.56 3.15,0 q1.57,1.56 3.15,0" fill="none" stroke="#303030" stroke-width="1.08"/>
<path d="M249.01,245.16 q1.57,-1.56 3.15,0 q1.57,1.56 3.15,0 q1.57,-1.56 3.15,0 q1.57,1.56 3.15,0 q1.57,-1.56 3.15,0 q1.57,1.56 3.15,0 q1.57,-1.56 3.15,0 q1.57,1.56 3.15,0" fill="none" stroke="#303030" stroke-width="1.08"/>
</g>
<polygon points="304.26,244.06 326.56,244.06 334.17,236.26 311.87,236.26" fill="url(#flat)" stroke="#858585" stroke-width="0.6"/>
<polygon points="380.82,244.06 388.43,236.26 388.43,232.06 380.82,239.86" fill="url(#side)"/>
<polygon points="358.52,239.86 380.82,239.86 388.43,232.06 366.12,232.06" fill="url(#top)"/>
<clipPath id="c5"><rect x="358.52" y="239.86" width="22.30" height="4.20"/></clipPath>
<rect x="358.52" y="239.86" width="22.30" height="4.20" fill="#fff"/>
<g clip-path="url(#c5)">
<path d="M357.52,240.86 q1.57,-1.56 3.15,0 q1.57,1.56 3.15,0 q1.57,-1.56 3.15,0 q1.57,1.56 3.15,0 q1.57,-1.56 3.15,0 q1.57,1.56 3.15,0 q1.57,-1.56 3.15,0 q1.57,1.56 3.15,0" fill="none" stroke="#303030" stroke-width="1.08"/>
<path d="M357.52,244.41 q1.57,-1.56 3.15,0 q1.57,1.56 3.15,0 q1.57,-1.56 3.15,0 q1.57,1.56 3.15,0 q1.57,-1.56 3.15,0 q1.57,1.56 3.15,0 q1.57,-1.56 3.15,0 q1.57,1.56 3.15,0" fill="none" stroke="#303030" stroke-width="1.08"/>
</g>
<polygon points="435.08,244.06 442.69,236.26 442.69,76.56 435.08,84.36" fill="url(#side)"/>
<polygon points="412.78,84.36 435.08,84.36 442.69,76.56 420.38,76.56" fill="url(#top)"/>
<clipPath id="c6"><rect x="412.78" y="84.36" width="22.30" height="159.70"/></clipPath>
<rect x="412.78" y="84.36" width="22.30" height="159.70" fill="#fff"/>
<g clip-path="url(#c6)">
<path d="M411.78,85.36 q1.57,-1.56 3.15,0 q1.57,1.56 3.15,0 q1.57,-1.56 3.15,0 q1.57,1.56 3.15,0 q1.57,-1.56 3.15,0 q1.57,1.56 3.15,0 q1.57,-1.56 3.15,0 q1.57,1.56 3.15,0" fill="none" stroke="#303030" stroke-width="1.08"/>
<path d="M411.78,88.91 q1.57,-1.56 3.15,0 q1.57,1.56 3.15,0 q1.57,-1.56 3.15,0 q1.57,1.56 3.15,0 q1.57,-1.56 3.15,0 q1.57,1.56 3.15,0 q1.57,-1.56 3.15,0 q1.57,1.56 3.15,0" fill="none" stroke="#303030" stroke-width="1.08"/>
<path d="M411.78,92.46 q1.57,-1.56 3.15,0 q1.57,1.56 3.15,0 q1.57,-1.56 3.15,0 q1.57,1.56 3.15,0 q1.57,-1.56 3.15,0 q1.57,1.56 3.15,0 q1.57,-1.56 3.15,0 q1.57,1.56 3.15,0" fill="none" stroke="#303030" stroke-width="1.08"/>
<path d="M411.78,96.01 q1.57,-1.56 3.15,0 q1.57,1.56 3.15,0 q1.57,-1.56 3.15,0 q1.57,1.56 3.15,0 q1.57,-1.56 3.15,0 q1.57,1.56 3.15,0 q1.57,-1.56 3.15,0 q1.57,1.56 3.15,0" fill="none" stroke="#303030" stroke-width="1.08"/>
<path d="M411.78,99.56 q1.57,-1.56 3.15,0 q1.57,1.56 3.15,0 q1.57,-1.56 3.15,0 q1.57,1.56 3.15,0 q1.57,-1.56 3.15,0 q1.57,1.56 3.15,0 q1.57,-1.56 3.15,0 q1.57,1.56 3.15,0" fill="none" stroke="#303030" stroke-width="1.08"/>
<path d="M411.78,103.11 q1.57,-1.56 3.15,0 q1.57,1.56 3.15,0 q1.57,-1.56 3.15,0 q1.57,1.56 3.15,0 q1.57,-1.56 3.15,0 q1.57,1.56 3.15,0 q1.57,-1.56 3.15,0 q1.57,1.56 3.15,0" fill="none" stroke="#303030" stroke-width="1.08"/>
<path d="M411.78,106.66 q1.57,-1.56 3.15,0 q1.57,1.56 3.15,0 q1.57,-1.56 3.15,0 q1.57,1.56 3.15,0 q1.57,-1.56 3.15,0 q1.57,1.56 3.15,0 q1.57,-1.56 3.15,0 q1.57,1.56 3.15,0" fill="none" stroke="#303030" stroke-width="1.08"/>
<path d="M411.78,110.21 q1.57,-1.56 3.15,0 q1.57,1.56 3.15,0 q1.57,-1.56 3.15,0 q1.57,1.56 3.15,0 q1.57,-1.56 3.15,0 q1.57,1.56 3.15,0 q1.57,-1.56 3.15,0 q1.57,1.56 3.15,0" fill="none" stroke="#303030" stroke-width="1.08"/>
<path d="M411.78,113.76 q1.57,-1.56 3.15,0 q1.57,1.56 3.15,0 q1.57,-1.56 3.15,0 q1.57,1.56 3.15,0 q1.57,-1.56 3.15,0 q1.57,1.56 3.15,0 q1.57,-1.56 3.15,0 q1.57,1.56 3.15,0" fill="none" stroke="#303030" stroke-width="1.08"/>
<path d="M411.78,117.31 q1.57,-1.56 3.15,0 q1.57,1.56 3.15,0 q1.57,-1.56 3.15,0 q1.57,1.56 3.15,0 q1.57,-1.56 3.15,0 q1.57,1.56 3.15,0 q1.57,-1.56 3.15,0 q1.57,1.56 3.15,0" fill="none" stroke="#303030" stroke-width="1.08"/>
<path d="M411.78,120.86 q1.57,-1.56 3.15,0 q1.57,1.56 3.15,0 q1.57,-1.56 3.15,0 q1.57,1.56 3.15,0 q1.57,-1.56 3.15,0 q1.57,1.56 3.15,0 q1.57,-1.56 3.15,0 q1.57,1.56 3.15,0" fill="none" stroke="#303030" stroke-width="1.08"/>
<path d="M411.78,124.41 q1.57,-1.56 3.15,0 q1.57,1.56 3.15,0 q1.57,-1.56 3.15,0 q1.57,1.56 3.15,0 q1.57,-1.56 3.15,0 q1.57,1.56 3.15,0 q1.57,-1.56 3.15,0 q1.57,1.56 3.15,0" fill="none" stroke="#303030" stroke-width="1.08"/>
<path d="M411.78,127.96 q1.57,-1.56 3.15,0 q1.57,1.56 3.15,0 q1.57,-1.56 3.15,0 q1.57,1.56 3.15,0 q1.57,-1.56 3.15,0 q1.57,1.56 3.15,0 q1.57,-1.56 3.15,0 q1.57,1.56 3.15,0" fill="none" stroke="#303030" stroke-width="1.08"/>
<path d="M411.78,131.51 q1.57,-1.56 3.15,0 q1.57,1.56 3.15,0 q1.57,-1.56 3.15,0 q1.57,1.56 3.15,0 q1.57,-1.56 3.15,0 q1.57,1.56 3.15,0 q1.57,-1.56 3.15,0 q1.57,1.56 3.15,0" fill="none" stroke="#303030" stroke-width="1.08"/>
<path d="M411.78,135.06 q1.57,-1.56 3.15,0 q1.57,1.56 3.15,0 q1.57,-1.56 3.15,0 q1.57,1.56 3.15,0 q1.57,-1.56 3.15,0 q1.57,1.56 3.15,0 q1.57,-1.56 3.15,0 q1.57,1.56 3.15,0" fill="none" stroke="#303030" stroke-width="1.08"/>
<path d="M411.78,138.61 q1.57,-1.56 3.15,0 q1.57,1.56 3.15,0 q1.57,-1.56 3.15,0 q1.57,1.56 3.15,0 q1.57,-1.56 3.15,0 q1.57,1.56 3.15,0 q1.57,-1.56 3.15,0 q1.57,1.56 3.15,0" fill="none" stroke="#303030" stroke-width="1.08"/>
<path d="M411.78,142.16 q1.57,-1.56 3.15,0 q1.57,1.56 3.15,0 q1.57,-1.56 3.15,0 q1.57,1.56 3.15,0 q1.57,-1.56 3.15,0 q1.57,1.56 3.15,0 q1.57,-1.56 3.15,0 q1.57,1.56 3.15,0" fill="none" stroke="#303030" stroke-width="1.08"/>
<path d="M411.78,145.71 q1.57,-1.56 3.15,0 q1.57,1.56 3.15,0 q1.57,-1.56 3.15,0 q1.57,1.56 3.15,0 q1.57,-1.56 3.15,0 q1.57,1.56 3.15,0 q1.57,-1.56 3.15,0 q1.57,1.56 3.15,0" fill="none" stroke="#303030" stroke-width="1.08"/>
<path d="M411.78,149.26 q1.57,-1.56 3.15,0 q1.57,1.56 3.15,0 q1.57,-1.56 3.15,0 q1.57,1.56 3.15,0 q1.57,-1.56 3.15,0 q1.57,1.56 3.15,0 q1.57,-1.56 3.15,0 q1.57,1.56 3.15,0" fill="none" stroke="#303030" stroke-width="1.08"/>
<path d="M411.78,152.81 q1.57,-1.56 3.15,0 q1.57,1.56 3.15,0 q1.57,-1.56 3.15,0 q1.57,1.56 3.15,0 q1.57,-1.56 3.15,0 q1.57,1.56 3.15,0 q1.57,-1.56 3.15,0 q1.57,1.56 3.15,0" fill="none" stroke="#303030" stroke-width="1.08"/>
<path d="M411.78,156.36 q1.57,-1.56 3.15,0 q1.57,1.56 3.15,0 q1.57,-1.56 3.15,0 q1.57,1.56 3.15,0 q1.57,-1.56 3.15,0 q1.57,1.56 3.15,0 q1.57,-1.56 3.15,0 q1.57,1.56 3.15,0" fill="none" stroke="#303030" stroke-width="1.08"/>
<path d="M411.78,159.91 q1.57,-1.56 3.15,0 q1.57,1.56 3.15,0 q1.57,-1.56 3.15,0 q1.57,1.56 3.15,0 q1.57,-1.56 3.15,0 q1.57,1.56 3.15,0 q1.57,-1.56 3.15,0 q1.57,1.56 3.15,0" fill="none" stroke="#303030" stroke-width="1.08"/>
<path d="M411.78,163.46 q1.57,-1.56 3.15,0 q1.57,1.56 3.15,0 q1.57,-1.56 3.15,0 q1.57,1.56 3.15,0 q1.57,-1.56 3.15,0 q1.57,1.56 3.15,0 q1.57,-1.56 3.15,0 q1.57,1.56 3.15,0" fill="none" stroke="#303030" stroke-width="1.08"/>
<path d="M411.78,167.01 q1.57,-1.56 3.15,0 q1.57,1.56 3.15,0 q1.57,-1.56 3.15,0 q1.57,1.56 3.15,0 q1.57,-1.56 3.15,0 q1.57,1.56 3.15,0 q1.57,-1.56 3.15,0 q1.57,1.56 3.15,0" fill="none" stroke="#303030" stroke-width="1.08"/>
<path d="M411.78,170.56 q1.57,-1.56 3.15,0 q1.57,1.56 3.15,0 q1.57,-1.56 3.15,0 q1.57,1.56 3.15,0 q1.57,-1.56 3.15,0 q1.57,1.56 3.15,0 q1.57,-1.56 3.15,0 q1.57,1.56 3.15,0" fill="none" stroke="#303030" stroke-width="1.08"/>
<path d="M411.78,174.11 q1.57,-1.56 3.15,0 q1.57,1.56 3.15,0 q1.57,-1.56 3.15,0 q1.57,1.56 3.15,0 q1.57,-1.56 3.15,0 q1.57,1.56 3.15,0 q1.57,-1.56 3.15,0 q1.57,1.56 3.15,0" fill="none" stroke="#303030" stroke-width="1.08"/>
<path d="M411.78,177.66 q1.57,-1.56 3.15,0 q1.57,1.56 3.15,0 q1.57,-1.56 3.15,0 q1.57,1.56 3.15,0 q1.57,-1.56 3.15,0 q1.57,1.56 3.15,0 q1.57,-1.56 3.15,0 q1.57,1.56 3.15,0" fill="none" stroke="#303030" stroke-width="1.08"/>
<path d="M411.78,181.21 q1.57,-1.56 3.15,0 q1.57,1.56 3.15,0 q1.57,-1.56 3.15,0 q1.57,1.56 3.15,0 q1.57,-1.56 3.15,0 q1.57,1.56 3.15,0 q1.57,-1.56 3.15,0 q1.57,1.56 3.15,0" fill="none" stroke="#303030" stroke-width="1.08"/>
<path d="M411.78,184.76 q1.57,-1.56 3.15,0 q1.57,1.56 3.15,0 q1.57,-1.56 3.15,0 q1.57,1.56 3.15,0 q1.57,-1.56 3.15,0 q1.57,1.56 3.15,0 q1.57,-1.56 3.15,0 q1.57,1.56 3.15,0" fill="none" stroke="#303030" stroke-width="1.08"/>
<path d="M411.78,188.31 q1.57,-1.56 3.15,0 q1.57,1.56 3.15,0 q1.57,-1.56 3.15,0 q1.57,1.56 3.15,0 q1.57,-1.56 3.15,0 q1.57,1.56 3.15,0 q1.57,-1.56 3.15,0 q1.57,1.56 3.15,0" fill="none" stroke="#303030" stroke-width="1.08"/>
<path d="M411.78,191.86 q1.57,-1.56 3.15,0 q1.57,1.56 3.15,0 q1.57,-1.56 3.15,0 q1.57,1.56 3.15,0 q1.57,-1.56 3.15,0 q1.57,1.56 3.15,0 q1.57,-1.56 3.15,0 q1.57,1.56 3.15,0" fill="none" stroke="#303030" stroke-width="1.08"/>
<path d="M411.78,195.41 q1.57,-1.56 3.15,0 q1.57,1.56 3.15,0 q1.57,-1.56 3.15,0 q1.57,1.56 3.15,0 q1.57,-1.56 3.15,0 q1.57,1.56 3.15,0 q1.57,-1.56 3.15,0 q1.57,1.56 3.15,0" fill="none" stroke="#303030" stroke-width="1.08"/>
<path d="M411.78,198.96 q1.57,-1.56 3.15,0 q1.57,1.56 3.15,0 q1.57,-1.56 3.15,0 q1.57,1.56 3.15,0 q1.57,-1.56 3.15,0 q1.57,1.56 3.15,0 q1.57,-1.56 3.15,0 q1.57,1.56 3.15,0" fill="none" stroke="#303030" stroke-width="1.08"/>
<path d="M411.78,202.51 q1.57,-1.56 3.15,0 q1.57,1.56 3.15,0 q1.57,-1.56 3.15,0 q1.57,1.56 3.15,0 q1.57,-1.56 3.15,0 q1.57,1.56 3.15,0 q1.57,-1.56 3.15,0 q1.57,1.56 3.15,0" fill="none" stroke="#303030" stroke-width="1.08"/>
<path d="M411.78,206.06 q1.57,-1.56 3.15,0 q1.57,1.56 3.15,0 q1.57,-1.56 3.15,0 q1.57,1.56 3.15,0 q1.57,-1.56 3.15,0 q1.57,1.56 3.15,0 q1.57,-1.56 3.15,0 q1.57,1.56 3.15,0" fill="none" stroke="#303030" stroke-width="1.08"/>
<path d="M411.78,209.61 q1.57,-1.56 3.15,0 q1.57,1.56 3.15,0 q1.57,-1.56 3.15,0 q1.57,1.56 3.15,0 q1.57,-1.56 3.15,0 q1.57,1.56 3.15,0 q1.57,-1.56 3.15,0 q1.57,1.56 3.15,0" fill="none" stroke="#303030" stroke-width="1.08"/>
<path d="M411.78,213.16 q1.57,-1.56 3.15,0 q1.57,1.56 3.15,0 q1.57,-1.56 3.15,0 q1.57,1.56 3.15,0 q1.57,-1.56 3.15,0 q1.57,1.56 3.15,0 q1.57,-1.56 3.15,0 q1.57,1.56 3.15,0" fill="none" stroke="#303030" stroke-width="1.08"/>
<path d="M411.78,216.71 q1.57,-1.56 3.15,0 q1.57,1.56 3.15,0 q1.57,-1.56 3.15,0 q1.57,1.56 3.15,0 q1.57,-1.56 3.15,0 q1.57,1.56 3.15,0 q1.57,-1.56 3.15,0 q1.57,1.56 3.15,0" fill="none" stroke="#303030" stroke-width="1.08"/>
<path d="M411.78,220.26 q1.57,-1.56 3.15,0 q1.57,1.56 3.15,0 q1.57,-1.56 3.15,0 q1.57,1.56 3.15,0 q1.57,-1.56 3.15,0 q1.57,1.56 3.15,0 q1.57,-1.56 3.15,0 q1.57,1.56 3.15,0" fill="none" stroke="#303030" stroke-width="1.08"/>
<path d="M411.78,223.81 q1.57,-1.56 3.15,0 q1.57,1.56 3.15,0 q1.57,-1.56 3.15,0 q1.57,1.56 3.15,0 q1.57,-1.56 3.15,0 q1.57,1.56 3.15,0 q1.57,-1.56 3.15,0 q1.57,1.56 3.15,0" fill="none" stroke="#303030" stroke-width="1.08"/>
<path d="M411.78,227.36 q1.57,-1.56 3.15,0 q1.57,1.56 3.15,0 q1.57,-1.56 3.15,0 q1.57,1.56 3.15,0 q1.57,-1.56 3.15,0 q1.57,1.56 3.15,0 q1.57,-1.56 3.15,0 q1.57,1.56 3.15,0" fill="none" stroke="#303030" stroke-width="1.08"/>
<path d="M411.78,230.91 q1.57,-1.56 3.15,0 q1.57,1.56 3.15,0 q1.57,-1.56 3.15,0 q1.57,1.56 3.15,0 q1.57,-1.56 3.15,0 q1.57,1.56 3.15,0 q1.57,-1.56 3.15,0 q1.57,1.56 3.15,0" fill="none" stroke="#303030" stroke-width="1.08"/>
<path d="M411.78,234.46 q1.57,-1.56 3.15,0 q1.57,1.56 3.15,0 q1.57,-1.56 3.15,0 q1.57,1.56 3.15,0 q1.57,-1.56 3.15,0 q1.57,1.56 3.15,0 q1.57,-1.56 3.15,0 q1.57,1.56 3.15,0" fill="none" stroke="#303030" stroke-width="1.08"/>
<path d="M411.78,238.01 q1.57,-1.56 3.15,0 q1.57,1.56 3.15,0 q1.57,-1.56 3.15,0 q1.57,1.56 3.15,0 q1.57,-1.56 3.15,0 q1.57,1.56 3.15,0 q1.57,-1.56 3.15,0 q1.57,1.56 3.15,0" fill="none" stroke="#303030" stroke-width="1.08"/>
<path d="M411.78,241.56 q1.57,-1.56 3.15,0 q1.57,1.56 3.15,0 q1.57,-1.56 3.15,0 q1.57,1.56 3.15,0 q1.57,-1.56 3.15,0 q1.57,1.56 3.15,0 q1.57,-1.56 3.15,0 q1.57,1.56 3.15,0" fill="none" stroke="#303030" stroke-width="1.08"/>
<path d="M411.78,245.11 q1.57,-1.56 3.15,0 q1.57,1.56 3.15,0 q1.57,-1.56 3.15,0 q1.57,1.56 3.15,0 q1.57,-1.56 3.15,0 q1.57,1.56 3.15,0 q1.57,-1.56 3.15,0 q1.57,1.56 3.15,0" fill="none" stroke="#303030" stroke-width="1.08"/>
</g>
<polygon points="467.04,244.06 489.34,244.06 496.94,236.26 474.64,236.26" fill="url(#flat)" stroke="#858585" stroke-width="0.6"/>
<polygon points="93.42,260.01 101.02,252.21 101.02,190.71 93.42,198.51" fill="url(#side)"/>
<polygon points="71.12,198.51 93.42,198.51 101.02,190.71 78.72,190.71" fill="url(#top)"/>
<clipPath id="c7"><rect x="71.12" y="198.51" width="22.30" height="61.50"/></clipPath>
<rect x="71.12" y="198.51" width="22.30" height="61.50" fill="#fff"/>
<g clip-path="url(#c7)">
<circle cx="68.12" cy="200.71" r="1.2" fill="#383838"/>
<circle cx="74.72" cy="200.71" r="1.2" fill="#383838"/>
<circle cx="81.32" cy="200.71" r="1.2" fill="#383838"/>
<circle cx="87.92" cy="200.71" r="1.2" fill="#383838"/>
<circle cx="94.52" cy="200.71" r="1.2" fill="#383838"/>
<circle cx="71.43" cy="204.26" r="1.2" fill="#383838"/>
<circle cx="78.03" cy="204.26" r="1.2" fill="#383838"/>
<circle cx="84.62" cy="204.26" r="1.2" fill="#383838"/>
<circle cx="91.22" cy="204.26" r="1.2" fill="#383838"/>
<circle cx="68.12" cy="207.81" r="1.2" fill="#383838"/>
<circle cx="74.72" cy="207.81" r="1.2" fill="#383838"/>
<circle cx="81.32" cy="207.81" r="1.2" fill="#383838"/>
<circle cx="87.92" cy="207.81" r="1.2" fill="#383838"/>
<circle cx="94.52" cy="207.81" r="1.2" fill="#383838"/>
<circle cx="71.43" cy="211.36" r="1.2" fill="#383838"/>
<circle cx="78.03" cy="211.36" r="1.2" fill="#383838"/>
<circle cx="84.62" cy="211.36" r="1.2" fill="#383838"/>
<circle cx="91.22" cy="211.36" r="1.2" fill="#383838"/>
<circle cx="68.12" cy="214.91" r="1.2" fill="#383838"/>
<circle cx="74.72" cy="214.91" r="1.2" fill="#383838"/>
<circle cx="81.32" cy="214.91" r="1.2" fill="#383838"/>
<circle cx="87.92" cy="214.91" r="1.2" fill="#383838"/>
<circle cx="94.52" cy="214.91" r="1.2" fill="#383838"/>
<circle cx="71.43" cy="218.46" r="1.2" fill="#383838"/>
<circle cx="78.03" cy="218.46" r="1.2" fill="#383838"/>
<circle cx="84.62" cy="218.46" r="1.2" fill="#383838"/>
<circle cx="91.22" cy="218.46" r="1.2" fill="#383838"/>
<circle cx="68.12" cy="222.01" r="1.2" fill="#383838"/>
<circle cx="74.72" cy="222.01" r="1.2" fill="#383838"/>
<circle cx="81.32" cy="222.01" r="1.2" fill="#383838"/>
<circle cx="87.92" cy="222.01" r="1.2" fill="#383838"/>
<circle cx="94.52" cy="222.01" r="1.2" fill="#383838"/>
<circle cx="71.43" cy="225.56" r="1.2" fill="#383838"/>
<circle cx="78.03" cy="225.56" r="1.2" fill="#383838"/>
<circle cx="84.62" cy="225.56" r="1.2" fill="#383838"/>
<circle cx="91.22" cy="225.56" r="1.2" fill="#383838"/>
<circle cx="68.12" cy="229.11" r="1.2" fill="#383838"/>
<circle cx="74.72" cy="229.11" r="1.2" fill="#383838"/>
<circle cx="81.32" cy="229.11" r="1.2" fill="#383838"/>
<circle cx="87.92" cy="229.11" r="1.2" fill="#383838"/>
<circle cx="94.52" cy="229.11" r="1.2" fill="#383838"/>
<circle cx="71.43" cy="232.66" r="1.2" fill="#383838"/>
<circle cx="78.03" cy="232.66" r="1.2" fill="#383838"/>
<circle cx="84.62" cy="232.66" r="1.2" fill="#383838"/>
<circle cx="91.22" cy="232.66" r="1.2" fill="#383838"/>
<circle cx="68.12" cy="236.21" r="1.2" fill="#383838"/>
<circle cx="74.72" cy="236.21" r="1.2" fill="#383838"/>
<circle cx="81.32" cy="236.21" r="1.2" fill="#383838"/>
<circle cx="87.92" cy="236.21" r="1.2" fill="#383838"/>
<circle cx="94.52" cy="236.21" r="1.2" fill="#383838"/>
<circle cx="71.43" cy="239.76" r="1.2" fill="#383838"/>
<circle cx="78.03" cy="239.76" r="1.2" fill="#383838"/>
<circle cx="84.62" cy="239.76" r="1.2" fill="#383838"/>
<circle cx="91.22" cy="239.76" r="1.2" fill="#383838"/>
<circle cx="68.12" cy="243.31" r="1.2" fill="#383838"/>
<circle cx="74.72" cy="243.31" r="1.2" fill="#383838"/>
<circle cx="81.32" cy="243.31" r="1.2" fill="#383838"/>
<circle cx="87.92" cy="243.31" r="1.2" fill="#383838"/>
<circle cx="94.52" cy="243.31" r="1.2" fill="#383838"/>
<circle cx="71.43" cy="246.86" r="1.2" fill="#383838"/>
<circle cx="78.03" cy="246.86" r="1.2" fill="#383838"/>
<circle cx="84.62" cy="246.86" r="1.2" fill="#383838"/>
<circle cx="91.22" cy="246.86" r="1.2" fill="#383838"/>
<circle cx="68.12" cy="250.41" r="1.2" fill="#383838"/>
<circle cx="74.72" cy="250.41" r="1.2" fill="#383838"/>
<circle cx="81.32" cy="250.41" r="1.2" fill="#383838"/>
<circle cx="87.92" cy="250.41" r="1.2" fill="#383838"/>
<circle cx="94.52" cy="250.41" r="1.2" fill="#383838"/>
<circle cx="71.43" cy="253.96" r="1.2" fill="#383838"/>
<circle cx="78.03" cy="253.96" r="1.2" fill="#383838"/>
<circle cx="84.62" cy="253.96" r="1.2" fill="#383838"/>
<circle cx="91.22" cy="253.96" r="1.2" fill="#383838"/>
<circle cx="68.12" cy="257.51" r="1.2" fill="#383838"/>
<circle cx="74.72" cy="257.51" r="1.2" fill="#383838"/>
<circle cx="81.32" cy="257.51" r="1.2" fill="#383838"/>
<circle cx="87.92" cy="257.51" r="1.2" fill="#383838"/>
<circle cx="94.52" cy="257.51" r="1.2" fill="#383838"/>
<circle cx="71.43" cy="261.06" r="1.2" fill="#383838"/>
<circle cx="78.03" cy="261.06" r="1.2" fill="#383838"/>
<circle cx="84.62" cy="261.06" r="1.2" fill="#383838"/>
<circle cx="91.22" cy="261.06" r="1.2" fill="#383838"/>
</g>
<polygon points="125.38,260.01 147.69,260.01 155.28,252.21 132.98,252.21" fill="url(#flat)" stroke="#858585" stroke-width="0.6"/>
<polygon points="201.95,260.01 209.55,252.21 209.55,246.21 201.95,254.01" fill="url(#side)"/>
<polygon points="179.65,254.01 201.95,254.01 209.55,246.21 187.25,246.21" fill="url(#top)"/>
<clipPath id="c8"><rect x="179.65" y="254.01" width="22.30" height="6.00"/></clipPath>
<rect x="179.65" y="254.01" width="22.30" height="6.00" fill="#fff"/>
<g clip-path="url(#c8)">
<circle cx="176.65" cy="256.21" r="1.2" fill="#383838"/>
<circle cx="183.25" cy="256.21" r="1.2" fill="#383838"/>
<circle cx="189.84" cy="256.21" r="1.2" fill="#383838"/>
<circle cx="196.44" cy="256.21" r="1.2" fill="#383838"/>
<circle cx="203.04" cy="256.21" r="1.2" fill="#383838"/>
<circle cx="179.95" cy="259.76" r="1.2" fill="#383838"/>
<circle cx="186.55" cy="259.76" r="1.2" fill="#383838"/>
<circle cx="193.15" cy="259.76" r="1.2" fill="#383838"/>
<circle cx="199.75" cy="259.76" r="1.2" fill="#383838"/>
</g>
<line x1="179.65" y1="259.81" x2="201.95" y2="259.81" stroke="#3a3a3a" stroke-width="0.8"/>
<polygon points="256.20,260.01 263.81,252.21 263.81,246.71 256.20,254.51" fill="url(#side)"/>
<polygon points="233.91,254.51 256.20,254.51 263.81,246.71 241.50,246.71" fill="url(#top)"/>
<clipPath id="c9"><rect x="233.91" y="254.51" width="22.30" height="5.50"/></clipPath>
<rect x="233.91" y="254.51" width="22.30" height="5.50" fill="#fff"/>
<g clip-path="url(#c9)">
<circle cx="230.91" cy="256.71" r="1.2" fill="#383838"/>
<circle cx="237.50" cy="256.71" r="1.2" fill="#383838"/>
<circle cx="244.10" cy="256.71" r="1.2" fill="#383838"/>
<circle cx="250.70" cy="256.71" r="1.2" fill="#383838"/>
<circle cx="257.31" cy="256.71" r="1.2" fill="#383838"/>
<circle cx="234.21" cy="260.26" r="1.2" fill="#383838"/>
<circle cx="240.81" cy="260.26" r="1.2" fill="#383838"/>
<circle cx="247.41" cy="260.26" r="1.2" fill="#383838"/>
<circle cx="254.00" cy="260.26" r="1.2" fill="#383838"/>
</g>
<line x1="233.91" y1="259.81" x2="256.20" y2="259.81" stroke="#3a3a3a" stroke-width="0.8"/>
<polygon points="288.16,260.01 310.46,260.01 318.06,252.21 295.76,252.21" fill="url(#flat)" stroke="#858585" stroke-width="0.6"/>
<polygon points="342.43,260.01 364.73,260.01 372.33,252.21 350.03,252.21" fill="url(#flat)" stroke="#858585" stroke-width="0.6"/>
<polygon points="418.99,260.01 426.59,252.21 426.59,247.61 418.99,255.41" fill="url(#side)"/>
<polygon points="396.69,255.41 418.99,255.41 426.59,247.61 404.29,247.61" fill="url(#top)"/>
<clipPath id="c10"><rect x="396.69" y="255.41" width="22.30" height="4.60"/></clipPath>
<rect x="396.69" y="255.41" width="22.30" height="4.60" fill="#fff"/>
<g clip-path="url(#c10)">
<circle cx="393.69" cy="257.61" r="1.2" fill="#383838"/>
<circle cx="400.29" cy="257.61" r="1.2" fill="#383838"/>
<circle cx="406.89" cy="257.61" r="1.2" fill="#383838"/>
<circle cx="413.49" cy="257.61" r="1.2" fill="#383838"/>
<circle cx="420.09" cy="257.61" r="1.2" fill="#383838"/>
<circle cx="396.98" cy="261.16" r="1.2" fill="#383838"/>
<circle cx="403.58" cy="261.16" r="1.2" fill="#383838"/>
<circle cx="410.19" cy="261.16" r="1.2" fill="#383838"/>
<circle cx="416.79" cy="261.16" r="1.2" fill="#383838"/>
</g>
<line x1="396.69" y1="259.81" x2="418.99" y2="259.81" stroke="#3a3a3a" stroke-width="0.8"/>
<polygon points="450.94,260.01 473.25,260.01 480.85,252.21 458.55,252.21" fill="url(#flat)" stroke="#858585" stroke-width="0.6"/>
<polygon points="77.33,275.96 84.92,268.16 84.92,252.46 77.33,260.26" fill="url(#side)"/>
<polygon points="55.02,260.26 77.33,260.26 84.92,252.46 62.62,252.46" fill="url(#top)"/>
<clipPath id="c11"><rect x="55.02" y="260.26" width="22.30" height="15.70"/></clipPath>
<rect x="55.02" y="260.26" width="22.30" height="15.70" fill="#fff"/>
<g clip-path="url(#c11)">
<circle cx="55.82" cy="261.16" r="0.78" fill="#747474"/>
<circle cx="59.42" cy="261.16" r="0.78" fill="#747474"/>
<circle cx="63.02" cy="261.16" r="0.78" fill="#747474"/>
<circle cx="66.62" cy="261.16" r="0.78" fill="#747474"/>
<circle cx="70.22" cy="261.16" r="0.78" fill="#747474"/>
<circle cx="73.82" cy="261.16" r="0.78" fill="#747474"/>
<circle cx="77.42" cy="261.16" r="0.78" fill="#747474"/>
<circle cx="57.62" cy="263.06" r="0.78" fill="#747474"/>
<circle cx="61.23" cy="263.06" r="0.78" fill="#747474"/>
<circle cx="64.83" cy="263.06" r="0.78" fill="#747474"/>
<circle cx="68.42" cy="263.06" r="0.78" fill="#747474"/>
<circle cx="72.02" cy="263.06" r="0.78" fill="#747474"/>
<circle cx="75.62" cy="263.06" r="0.78" fill="#747474"/>
<circle cx="55.82" cy="264.96" r="0.78" fill="#747474"/>
<circle cx="59.42" cy="264.96" r="0.78" fill="#747474"/>
<circle cx="63.02" cy="264.96" r="0.78" fill="#747474"/>
<circle cx="66.62" cy="264.96" r="0.78" fill="#747474"/>
<circle cx="70.22" cy="264.96" r="0.78" fill="#747474"/>
<circle cx="73.82" cy="264.96" r="0.78" fill="#747474"/>
<circle cx="77.42" cy="264.96" r="0.78" fill="#747474"/>
<circle cx="57.62" cy="266.86" r="0.78" fill="#747474"/>
<circle cx="61.23" cy="266.86" r="0.78" fill="#747474"/>
<circle cx="64.83" cy="266.86" r="0.78" fill="#747474"/>
<circle cx="68.42" cy="266.86" r="0.78" fill="#747474"/>
<circle cx="72.02" cy="266.86" r="0.78" fill="#747474"/>
<circle cx="75.62" cy="266.86" r="0.78" fill="#747474"/>
<circle cx="55.82" cy="268.76" r="0.78" fill="#747474"/>
<circle cx="59.42" cy="268.76" r="0.78" fill="#747474"/>
<circle cx="63.02" cy="268.76" r="0.78" fill="#747474"/>
<circle cx="66.62" cy="268.76" r="0.78" fill="#747474"/>
<circle cx="70.22" cy="268.76" r="0.78" fill="#747474"/>
<circle cx="73.82" cy="268.76" r="0.78" fill="#747474"/>
<circle cx="77.42" cy="268.76" r="0.78" fill="#747474"/>
<circle cx="57.62" cy="270.66" r="0.78" fill="#747474"/>
<circle cx="61.23" cy="270.66" r="0.78" fill="#747474"/>
<circle cx="64.83" cy="270.66" r="0.78" fill="#747474"/>
<circle cx="68.42" cy="270.66" r="0.78" fill="#747474"/>
<circle cx="72.02" cy="270.66" r="0.78" fill="#747474"/>
<circle cx="75.62" cy="270.66" r="0.78" fill="#747474"/>
<circle cx="55.82" cy="272.56" r="0.78" fill="#747474"/>
<circle cx="59.42" cy="272.56" r="0.78" fill="#747474"/>
<circle cx="63.02" cy="272.56" r="0.78" fill="#747474"/>
<circle cx="66.62" cy="272.56" r="0.78" fill="#747474"/>
<circle cx="70.22" cy="272.56" r="0.78" fill="#747474"/>
<circle cx="73.82" cy="272.56" r="0.78" fill="#747474"/>
<circle cx="77.42" cy="272.56" r="0.78" fill="#747474"/>
<circle cx="57.62" cy="274.46" r="0.78" fill="#747474"/>
<circle cx="61.23" cy="274.46" r="0.78" fill="#747474"/>
<circle cx="64.83" cy="274.46" r="0.78" fill="#747474"/>
<circle cx="68.42" cy="274.46" r="0.78" fill="#747474"/>
<circle cx="72.02" cy="274.46" r="0.78" fill="#747474"/>
<circle cx="75.62" cy="274.46" r="0.78" fill="#747474"/>
<circle cx="55.82" cy="276.36" r="0.78" fill="#747474"/>
<circle cx="59.42" cy="276.36" r="0.78" fill="#747474"/>
<circle cx="63.02" cy="276.36" r="0.78" fill="#747474"/>
<circle cx="66.62" cy="276.36" r="0.78" fill="#747474"/>
<circle cx="70.22" cy="276.36" r="0.78" fill="#747474"/>
<circle cx="73.82" cy="276.36" r="0.78" fill="#747474"/>
<circle cx="77.42" cy="276.36" r="0.78" fill="#747474"/>
</g>
<polygon points="131.59,275.96 139.19,268.16 139.19,256.56 131.59,264.36" fill="url(#side)"/>
<polygon points="109.28,264.36 131.59,264.36 139.19,256.56 116.88,256.56" fill="url(#top)"/>
<clipPath id="c12"><rect x="109.28" y="264.36" width="22.30" height="11.60"/></clipPath>
<rect x="109.28" y="264.36" width="22.30" height="11.60" fill="#fff"/>
<g clip-path="url(#c12)">
<circle cx="110.08" cy="265.26" r="0.78" fill="#747474"/>
<circle cx="113.68" cy="265.26" r="0.78" fill="#747474"/>
<circle cx="117.28" cy="265.26" r="0.78" fill="#747474"/>
<circle cx="120.88" cy="265.26" r="0.78" fill="#747474"/>
<circle cx="124.48" cy="265.26" r="0.78" fill="#747474"/>
<circle cx="128.08" cy="265.26" r="0.78" fill="#747474"/>
<circle cx="131.68" cy="265.26" r="0.78" fill="#747474"/>
<circle cx="111.88" cy="267.16" r="0.78" fill="#747474"/>
<circle cx="115.48" cy="267.16" r="0.78" fill="#747474"/>
<circle cx="119.08" cy="267.16" r="0.78" fill="#747474"/>
<circle cx="122.68" cy="267.16" r="0.78" fill="#747474"/>
<circle cx="126.28" cy="267.16" r="0.78" fill="#747474"/>
<circle cx="129.88" cy="267.16" r="0.78" fill="#747474"/>
<circle cx="110.08" cy="269.06" r="0.78" fill="#747474"/>
<circle cx="113.68" cy="269.06" r="0.78" fill="#747474"/>
<circle cx="117.28" cy="269.06" r="0.78" fill="#747474"/>
<circle cx="120.88" cy="269.06" r="0.78" fill="#747474"/>
<circle cx="124.48" cy="269.06" r="0.78" fill="#747474"/>
<circle cx="128.08" cy="269.06" r="0.78" fill="#747474"/>
<circle cx="131.68" cy="269.06" r="0.78" fill="#747474"/>
<circle cx="111.88" cy="270.96" r="0.78" fill="#747474"/>
<circle cx="115.48" cy="270.96" r="0.78" fill="#747474"/>
<circle cx="119.08" cy="270.96" r="0.78" fill="#747474"/>
<circle cx="122.68" cy="270.96" r="0.78" fill="#747474"/>
<circle cx="126.28" cy="270.96" r="0.78" fill="#747474"/>
<circle cx="129.88" cy="270.96" r="0.78" fill="#747474"/>
<circle cx="110.08" cy="272.86" r="0.78" fill="#747474"/>
<circle cx="113.68" cy="272.86" r="0.78" fill="#747474"/>
<circle cx="117.28" cy="272.86" r="0.78" fill="#747474"/>
<circle cx="120.88" cy="272.86" r="0.78" fill="#747474"/>
<circle cx="124.48" cy="272.86" r="0.78" fill="#747474"/>
<circle cx="128.08" cy="272.86" r="0.78" fill="#747474"/>
<circle cx="131.68" cy="272.86" r="0.78" fill="#747474"/>
<circle cx="111.88" cy="274.76" r="0.78" fill="#747474"/>
<circle cx="115.48" cy="274.76" r="0.78" fill="#747474"/>
<circle cx="119.08" cy="274.76" r="0.78" fill="#747474"/>
<circle cx="122.68" cy="274.76" r="0.78" fill="#747474"/>
<circle cx="126.28" cy="274.76" r="0.78" fill="#747474"/>
<circle cx="129.88" cy="274.76" r="0.78" fill="#747474"/>
<circle cx="110.08" cy="276.66" r="0.78" fill="#747474"/>
<circle cx="113.68" cy="276.66" r="0.78" fill="#747474"/>
<circle cx="117.28" cy="276.66" r="0.78" fill="#747474"/>
<circle cx="120.88" cy="276.66" r="0.78" fill="#747474"/>
<circle cx="124.48" cy="276.66" r="0.78" fill="#747474"/>
<circle cx="128.08" cy="276.66" r="0.78" fill="#747474"/>
<circle cx="131.68" cy="276.66" r="0.78" fill="#747474"/>
</g>
<polygon points="185.84,275.96 193.44,268.16 193.44,266.16 185.84,273.96" fill="url(#side)"/>
<polygon points="163.54,273.96 185.84,273.96 193.44,266.16 171.14,266.16" fill="url(#top)"/>
<clipPath id="c13"><rect x="163.54" y="273.96" width="22.30" height="2.00"/></clipPath>
<rect x="163.54" y="273.96" width="22.30" height="2.00" fill="#fff"/>
<g clip-path="url(#c13)">
<circle cx="164.34" cy="274.86" r="0.78" fill="#747474"/>
<circle cx="167.94" cy="274.86" r="0.78" fill="#747474"/>
<circle cx="171.54" cy="274.86" r="0.78" fill="#747474"/>
<circle cx="175.14" cy="274.86" r="0.78" fill="#747474"/>
<circle cx="178.74" cy="274.86" r="0.78" fill="#747474"/>
<circle cx="182.34" cy="274.86" r="0.78" fill="#747474"/>
<circle cx="185.94" cy="274.86" r="0.78" fill="#747474"/>
<circle cx="166.14" cy="276.76" r="0.78" fill="#747474"/>
<circle cx="169.74" cy="276.76" r="0.78" fill="#747474"/>
<circle cx="173.34" cy="276.76" r="0.78" fill="#747474"/>
<circle cx="176.94" cy="276.76" r="0.78" fill="#747474"/>
<circle cx="180.54" cy="276.76" r="0.78" fill="#747474"/>
<circle cx="184.14" cy="276.76" r="0.78" fill="#747474"/>
</g>
<line x1="163.54" y1="275.76" x2="185.84" y2="275.76" stroke="#3a3a3a" stroke-width="0.8"/>
<polygon points="240.11,275.96 247.71,268.16 247.71,266.16 240.11,273.96" fill="url(#side)"/>
<polygon points="217.81,273.96 240.11,273.96 247.71,266.16 225.41,266.16" fill="url(#top)"/>
<clipPath id="c14"><rect x="217.81" y="273.96" width="22.30" height="2.00"/></clipPath>
<rect x="217.81" y="273.96" width="22.30" height="2.00" fill="#fff"/>
<g clip-path="url(#c14)">
<circle cx="218.61" cy="274.86" r="0.78" fill="#747474"/>
<circle cx="222.21" cy="274.86" r="0.78" fill="#747474"/>
<circle cx="225.81" cy="274.86" r="0.78" fill="#747474"/>
<circle cx="229.41" cy="274.86" r="0.78" fill="#747474"/>
<circle cx="233.00" cy="274.86" r="0.78" fill="#747474"/>
<circle cx="236.60" cy="274.86" r="0.78" fill="#747474"/>
<circle cx="240.20" cy="274.86" r="0.78" fill="#747474"/>
<circle cx="220.41" cy="276.76" r="0.78" fill="#747474"/>
<circle cx="224.00" cy="276.76" r="0.78" fill="#747474"/>
<circle cx="227.60" cy="276.76" r="0.78" fill="#747474"/>
<circle cx="231.20" cy="276.76" r="0.78" fill="#747474"/>
<circle cx="234.80" cy="276.76" r="0.78" fill="#747474"/>
<circle cx="238.40" cy="276.76" r="0.78" fill="#747474"/>
</g>
<line x1="217.81" y1="275.76" x2="240.11" y2="275.76" stroke="#3a3a3a" stroke-width="0.8"/>
<polygon points="294.37,275.96 301.97,268.16 301.97,266.16 294.37,273.96" fill="url(#side)"/>
<polygon points="272.06,273.96 294.37,273.96 301.97,266.16 279.67,266.16" fill="url(#top)"/>
<clipPath id="c15"><rect x="272.06" y="273.96" width="22.30" height="2.00"/></clipPath>
<rect x="272.06" y="273.96" width="22.30" height="2.00" fill="#fff"/>
<g clip-path="url(#c15)">
<circle cx="272.87" cy="274.86" r="0.78" fill="#747474"/>
<circle cx="276.47" cy="274.86" r="0.78" fill="#747474"/>
<circle cx="280.07" cy="274.86" r="0.78" fill="#747474"/>
<circle cx="283.67" cy="274.86" r="0.78" fill="#747474"/>
<circle cx="287.27" cy="274.86" r="0.78" fill="#747474"/>
<circle cx="290.87" cy="274.86" r="0.78" fill="#747474"/>
<circle cx="294.47" cy="274.86" r="0.78" fill="#747474"/>
<circle cx="274.67" cy="276.76" r="0.78" fill="#747474"/>
<circle cx="278.27" cy="276.76" r="0.78" fill="#747474"/>
<circle cx="281.87" cy="276.76" r="0.78" fill="#747474"/>
<circle cx="285.47" cy="276.76" r="0.78" fill="#747474"/>
<circle cx="289.07" cy="276.76" r="0.78" fill="#747474"/>
<circle cx="292.67" cy="276.76" r="0.78" fill="#747474"/>
</g>
<line x1="272.06" y1="275.76" x2="294.37" y2="275.76" stroke="#3a3a3a" stroke-width="0.8"/>
<polygon points="348.62,275.96 356.23,268.16 356.23,266.16 348.62,273.96" fill="url(#side)"/>
<polygon points="326.32,273.96 348.62,273.96 356.23,266.16 333.93,266.16" fill="url(#top)"/>
<clipPath id="c16"><rect x="326.32" y="273.96" width="22.30" height="2.00"/></clipPath>
<rect x="326.32" y="273.96" width="22.30" height="2.00" fill="#fff"/>
<g clip-path="url(#c16)">
<circle cx="327.12" cy="274.86" r="0.78" fill="#747474"/>
<circle cx="330.73" cy="274.86" r="0.78" fill="#747474"/>
<circle cx="334.33" cy="274.86" r="0.78" fill="#747474"/>
<circle cx="337.93" cy="274.86" r="0.78" fill="#747474"/>
<circle cx="341.53" cy="274.86" r="0.78" fill="#747474"/>
<circle cx="345.13" cy="274.86" r="0.78" fill="#747474"/>
<circle cx="348.73" cy="274.86" r="0.78" fill="#747474"/>
<circle cx="328.93" cy="276.76" r="0.78" fill="#747474"/>
<circle cx="332.53" cy="276.76" r="0.78" fill="#747474"/>
<circle cx="336.13" cy="276.76" r="0.78" fill="#747474"/>
<circle cx="339.73" cy="276.76" r="0.78" fill="#747474"/>
<circle cx="343.33" cy="276.76" r="0.78" fill="#747474"/>
<circle cx="346.93" cy="276.76" r="0.78" fill="#747474"/>
</g>
<line x1="326.32" y1="275.76" x2="348.62" y2="275.76" stroke="#3a3a3a" stroke-width="0.8"/>
<polygon points="402.88,275.96 410.49,268.16 410.49,267.16 402.88,274.96" fill="url(#side)"/>
<polygon points="380.58,274.96 402.88,274.96 410.49,267.16 388.19,267.16" fill="url(#top)"/>
<clipPath id="c17"><rect x="380.58" y="274.96" width="22.30" height="1.00"/></clipPath>
<rect x="380.58" y="274.96" width="22.30" height="1.00" fill="#fff"/>
<g clip-path="url(#c17)">
<circle cx="381.38" cy="275.86" r="0.78" fill="#747474"/>
<circle cx="384.99" cy="275.86" r="0.78" fill="#747474"/>
<circle cx="388.59" cy="275.86" r="0.78" fill="#747474"/>
<circle cx="392.19" cy="275.86" r="0.78" fill="#747474"/>
<circle cx="395.79" cy="275.86" r="0.78" fill="#747474"/>
<circle cx="399.39" cy="275.86" r="0.78" fill="#747474"/>
<circle cx="402.99" cy="275.86" r="0.78" fill="#747474"/>
</g>
<line x1="380.58" y1="275.76" x2="402.88" y2="275.76" stroke="#3a3a3a" stroke-width="0.8"/>
<polygon points="457.14,275.96 464.75,268.16 464.75,266.16 457.14,273.96" fill="url(#side)"/>
<polygon points="434.84,273.96 457.14,273.96 464.75,266.16 442.44,266.16" fill="url(#top)"/>
<clipPath id="c18"><rect x="434.84" y="273.96" width="22.30" height="2.00"/></clipPath>
<rect x="434.84" y="273.96" width="22.30" height="2.00" fill="#fff"/>
<g clip-path="url(#c18)">
<circle cx="435.64" cy="274.86" r="0.78" fill="#747474"/>
<circle cx="439.25" cy="274.86" r="0.78" fill="#747474"/>
<circle cx="442.85" cy="274.86" r="0.78" fill="#747474"/>
<circle cx="446.45" cy="274.86" r="0.78" fill="#747474"/>
<circle cx="450.05" cy="274.86" r="0.78" fill="#747474"/>
<circle cx="453.65" cy="274.86" r="0.78" fill="#747474"/>
<circle cx="457.25" cy="274.86" r="0.78" fill="#747474"/>
<circle cx="437.44" cy="276.76" r="0.78" fill="#747474"/>
<circle cx="441.05" cy="276.76" r="0.78" fill="#747474"/>
<circle cx="444.65" cy="276.76" r="0.78" fill="#747474"/>
<circle cx="448.25" cy="276.76" r="0.78" fill="#747474"/>
<circle cx="451.85" cy="276.76" r="0.78" fill="#747474"/>
<circle cx="455.45" cy="276.76" r="0.78" fill="#747474"/>
</g>
<line x1="434.84" y1="275.76" x2="457.14" y2="275.76" stroke="#3a3a3a" stroke-width="0.8"/>
<polygon points="38.92,291.91 61.22,291.91 68.82,284.11 46.52,284.11" fill="url(#flat0)" stroke="#adadad" stroke-width="0.6"/>
<polygon points="93.19,291.91 115.48,291.91 123.08,284.11 100.78,284.11" fill="url(#flat0)" stroke="#adadad" stroke-width="0.6"/>
<polygon points="147.44,291.91 169.75,291.91 177.34,284.11 155.04,284.11" fill="url(#flat0)" stroke="#adadad" stroke-width="0.6"/>
<polygon points="201.71,291.91 224.01,291.91 231.61,284.11 209.31,284.11" fill="url(#flat0)" stroke="#adadad" stroke-width="0.6"/>
<polygon points="255.97,291.91 278.26,291.91 285.87,284.11 263.56,284.11" fill="url(#flat0)" stroke="#adadad" stroke-width="0.6"/>
<polygon points="310.22,291.91 332.52,291.91 340.12,284.11 317.82,284.11" fill="url(#flat0)" stroke="#adadad" stroke-width="0.6"/>
<polygon points="364.48,291.91 386.78,291.91 394.38,284.11 372.08,284.11" fill="url(#flat0)" stroke="#adadad" stroke-width="0.6"/>
<polygon points="418.74,291.91 441.04,291.91 448.64,284.11 426.34,284.11" fill="url(#flat0)" stroke="#adadad" stroke-width="0.6"/>
<text x="84.0" y="11.3" font-size="11.9" stroke="#111" stroke-width="0.25" class="t">HIV p24 (ng/ml)</text>
<text x="2" y="299.90" font-size="10.2" stroke="#111" stroke-width="0.25" class="t">0</text>
<text x="2" y="257.40" font-size="10.2" stroke="#111" stroke-width="0.25" class="t">1</text>
<text x="2" y="214.90" font-size="10.2" stroke="#111" stroke-width="0.25" class="t">2</text>
<text x="2" y="172.40" font-size="10.2" stroke="#111" stroke-width="0.25" class="t">3</text>
<text x="2" y="129.90" font-size="10.2" stroke="#111" stroke-width="0.25" class="t">4</text>
<text x="2" y="87.40" font-size="10.2" stroke="#111" stroke-width="0.25" class="t">5</text>
<rect x="318.9" y="24.1" width="191.0" height="15.8" fill="#fff" stroke="#2a2a2a" stroke-width="0.9"/>
<rect x="322.30" y="28.80" width="9.20" height="6.60" fill="#fff" stroke="#333" stroke-width="0.7"/>
<text x="333.60" y="36.5" font-size="10.15" stroke="#111" stroke-width="0.25" class="t">day 0</text>
<clipPath id="c19"><rect x="366.20" y="28.80" width="9.20" height="6.60"/></clipPath>
<rect x="366.20" y="28.80" width="9.20" height="6.60" fill="#fff"/>
<g clip-path="url(#c19)">
<circle cx="367.00" cy="29.70" r="0.78" fill="#747474"/>
<circle cx="370.60" cy="29.70" r="0.78" fill="#747474"/>
<circle cx="374.20" cy="29.70" r="0.78" fill="#747474"/>
<circle cx="368.80" cy="31.60" r="0.78" fill="#747474"/>
<circle cx="372.40" cy="31.60" r="0.78" fill="#747474"/>
<circle cx="376.00" cy="31.60" r="0.78" fill="#747474"/>
<circle cx="367.00" cy="33.50" r="0.78" fill="#747474"/>
<circle cx="370.60" cy="33.50" r="0.78" fill="#747474"/>
<circle cx="374.20" cy="33.50" r="0.78" fill="#747474"/>
<circle cx="368.80" cy="35.40" r="0.78" fill="#747474"/>
<circle cx="372.40" cy="35.40" r="0.78" fill="#747474"/>
<circle cx="376.00" cy="35.40" r="0.78" fill="#747474"/>
</g>
<rect x="366.20" y="28.80" width="9.20" height="6.60" fill="none" stroke="#333" stroke-width="0.7"/>
<text x="377.30" y="36.5" font-size="10.15" stroke="#111" stroke-width="0.25" class="t">day 10</text>
<circle cx="418.00" cy="32.10" r="1.0" fill="#333"/><circle cx="422.60" cy="32.10" r="1.0" fill="#333"/>
<rect x="416.00" y="28.80" width="9.20" height="6.60" fill="none" stroke="#333" stroke-width="0.7"/>
<text x="427.10" y="36.5" font-size="10.15" stroke="#111" stroke-width="0.25" class="t">day 20</text>
<path d="M465.30,32.70 q1.6,-2.6 3.2,0 t3,0 t3,-0.6" fill="none" stroke="#222" stroke-width="1.0"/>
<rect x="465.00" y="28.80" width="9.20" height="6.60" fill="none" stroke="#333" stroke-width="0.7"/>
<text x="476.60" y="36.5" font-size="10.15" stroke="#111" stroke-width="0.25" class="t">day 30</text>
<text transform="translate(31.39,331.53) rotate(-51.50) scale(0.780,1)" x="0.00" y="0.00" font-size="11.80" stroke="#111" stroke-width="0.3" class="t">PR-5</text>
<text transform="translate(73.29,343.63) rotate(-51.50) scale(0.780,1)" x="0.00" y="0.00" font-size="11.80" stroke="#111" stroke-width="0.3" class="t">PR-5+PR-2</text>
<text transform="translate(118.29,342.53) rotate(-51.50) scale(0.780,1)" x="0.00" y="0.00" font-size="11.80" stroke="#111" stroke-width="0.3" class="t">PR-5+PR-2</text>
<text transform="translate(118.79,343.03) rotate(-51.50) scale(0.797,1)" x="1.25" y="13.40" font-size="11.80" stroke="#111" stroke-width="0.3" class="t"><tspan class="g" letter-spacing="0.5">+α</tspan><tspan letter-spacing="0.4">ck–Abs</tspan></text>
<text transform="translate(172.69,342.33) rotate(-51.50) scale(0.780,1)" x="0.00" y="0.00" font-size="11.80" stroke="#111" stroke-width="0.3" class="t">PR-5+PR-2</text>
<text transform="translate(173.39,340.83) rotate(-51.50) scale(0.797,1)" x="1.25" y="13.40" font-size="11.80" stroke="#111" stroke-width="0.3" class="t">+<tspan class="g" letter-spacing="1.6">α</tspan>-MIP-1<tspan class="g" letter-spacing="1.6">α</tspan></text>
<text transform="translate(227.64,338.69) rotate(-48.50) scale(0.780,1)" x="0.00" y="0.00" font-size="11.80" stroke="#111" stroke-width="0.3" class="t">PR-5+PR-2</text>
<text transform="translate(228.64,338.69) rotate(-48.50) scale(0.797,1)" x="1.25" y="13.40" font-size="11.80" stroke="#111" stroke-width="0.3" class="t">+<tspan class="g" letter-spacing="1.6">α</tspan>-MIP-1<tspan class="g" letter-spacing="1.6">β</tspan></text>
<text transform="translate(276.99,346.53) rotate(-51.50) scale(0.780,1)" x="0.00" y="0.00" font-size="11.80" stroke="#111" stroke-width="0.3" class="t">PR-5+PR-2</text>
<text transform="translate(276.99,346.53) rotate(-51.50) scale(0.797,1)" x="1.25" y="13.40" font-size="11.80" stroke="#111" stroke-width="0.3" class="t">+<tspan class="g" letter-spacing="1.6">α</tspan>-RANTES</text>
<text transform="translate(303.88,380.77) rotate(-51.00) scale(0.780,1)" x="0.00" y="0.00" font-size="11.80" stroke="#111" stroke-width="0.3" class="t">PR-5+PR-2</text>
<text transform="translate(303.88,380.77) rotate(-51.00) scale(0.797,1)" x="1.25" y="13.40" font-size="11.80" stroke="#111" stroke-width="0.3" class="t">+<tspan class="g" letter-spacing="1.6">α</tspan>-MIP-1<tspan class="g" letter-spacing="1.6">α</tspan> <tspan dx="1.1">+</tspan><tspan class="g" letter-spacing="1.6">α</tspan>-MIP-1<tspan class="g" letter-spacing="1.6">β</tspan></text>
<text transform="translate(355.58,386.57) rotate(-51.00) scale(0.780,1)" x="0.00" y="0.00" font-size="11.80" stroke="#111" stroke-width="0.3" class="t">PR-5+PR-2</text>
<text transform="translate(355.58,386.57) rotate(-51.00) scale(0.797,1)" x="1.25" y="13.40" font-size="11.80" stroke="#111" stroke-width="0.3" class="t">+<tspan class="g" letter-spacing="1.6">α</tspan>-RANTES <tspan dx="1.1">+</tspan><tspan class="g" letter-spacing="1.6">α</tspan>-MIP-1<tspan class="g" letter-spacing="1.6">β</tspan></text>
</svg>
</body></html>
